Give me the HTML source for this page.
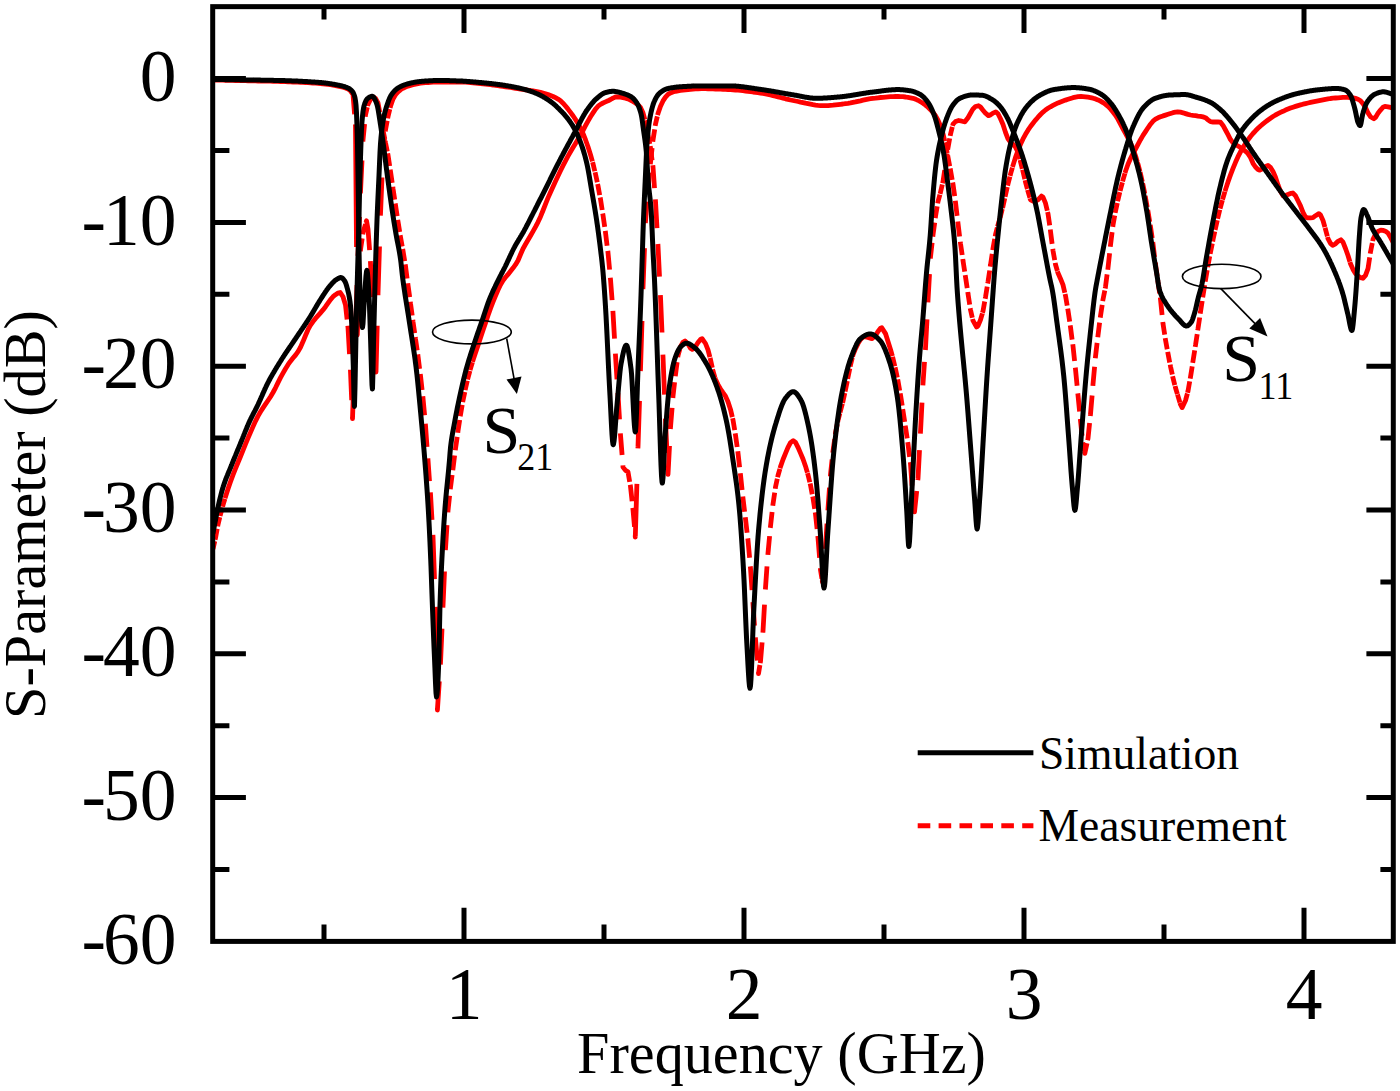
<!DOCTYPE html>
<html><head><meta charset="utf-8"><title>S-Parameter</title>
<style>html,body{margin:0;padding:0;background:#fff}svg{display:block}</style></head>
<body>
<svg width="1400" height="1091" viewBox="0 0 1400 1091">
<rect width="1400" height="1091" fill="#fff"/>
<defs><clipPath id="cp"><rect x="212.7" y="6.65" width="1180.6" height="934.75"/></clipPath></defs>
<g clip-path="url(#cp)" fill="none" stroke-linejoin="round">
<path d="M213.0,80.0L215.5,80.1L218.0,80.1L220.5,80.2L223.0,80.2L225.5,80.3L228.0,80.3L230.5,80.4L233.0,80.4L235.5,80.5L238.0,80.5L240.5,80.6L243.0,80.6L245.5,80.7L248.0,80.8L250.5,80.8L253.0,80.9L255.5,80.9L258.0,81.0L260.5,81.0L263.0,81.1L265.5,81.1L268.0,81.2L270.5,81.2L273.0,81.3L275.5,81.4L278.0,81.4L280.5,81.5L283.0,81.6L285.5,81.7L288.0,81.8L290.5,81.9L293.0,82.0L295.5,82.1L298.0,82.2L300.5,82.3L303.0,82.4L305.5,82.5L308.0,82.7L310.5,82.8L313.0,83.0L315.5,83.2L318.0,83.3L320.5,83.5L323.0,83.8L325.5,84.1L328.0,84.4L330.5,84.7L333.0,85.2L335.5,85.6L338.0,86.1L340.5,86.6L343.0,87.2L345.5,88.0L348.0,89.0L350.5,91.0L353.0,94.6L354.6,114.3M355.4,124.4L355.5,126.1L356.5,246.9M357.3,333.3L357.3,335.0L359.2,284.7M360.4,251.4L360.5,249.7L362.2,238.3M362.8,234.4L363.0,232.7L365.5,224.3M366.0,222.4L366.5,220.8L368.0,229.1L369.6,250.1M370.4,261.2L370.5,262.9L372.0,297.2M372.9,318.3L373.0,320.0L374.8,351.3M375.9,370.3L376.0,372.0L377.2,325.6M378.0,295.3L378.0,293.6L379.5,246.5M380.4,215.7L380.5,214.0L382.0,177.5M382.9,154.7L383.0,153.0L384.6,138.1M385.3,131.4L385.5,129.7L387.2,120.7M387.7,118.4L388.0,116.8L389.8,109.1M390.1,107.9L390.5,106.3L393.0,99.0L395.5,94.8L398.0,91.9L400.5,89.8L403.0,88.3L405.5,87.1L408.0,86.1L410.5,85.4L413.0,84.7L415.5,84.1L418.0,83.6L420.5,83.2L423.0,82.9L425.5,82.7L428.0,82.5L430.5,82.3L433.0,82.2L435.5,82.1L438.0,82.0L440.5,82.0L443.0,82.0L445.5,82.0L448.0,82.0L450.5,82.0L453.0,82.0L455.5,82.0L458.0,82.0L460.5,82.0L463.0,82.1L465.5,82.2L468.0,82.3L470.5,82.6L473.0,82.8L475.5,83.1L478.0,83.3L480.5,83.5L483.0,83.8L485.5,84.1L488.0,84.4L490.5,84.7L493.0,85.0L495.5,85.4L498.0,85.7L500.5,86.1L503.0,86.4L505.5,86.8L508.0,87.1L510.5,87.5L513.0,87.9L515.5,88.3L518.0,88.7L520.5,89.1L523.0,89.4L525.5,89.8L528.0,90.2L530.5,90.5L533.0,90.9L535.5,91.3L538.0,91.8L540.5,92.3L543.0,93.0L545.5,93.7L548.0,94.5L550.5,95.5L553.0,96.5L555.5,97.7L558.0,99.1L560.5,100.8L563.0,103.2L565.5,106.0L568.0,109.1L570.5,112.4L573.0,115.7L575.5,119.5L578.0,123.6L580.5,128.2L583.0,133.5L585.5,139.7L588.0,146.7L590.5,154.6L592.4,161.4M592.6,162.1L593.0,163.7L594.8,171.2M595.1,172.3L595.5,174.0L597.3,182.3M597.6,184.0L598.0,185.7L599.7,195.1M600.2,197.5L600.5,199.2L602.2,210.0M602.7,213.5L603.0,215.2L604.7,226.8M605.3,230.9L605.5,232.5L607.1,245.7M607.8,250.9L608.0,252.6L609.6,269.6M610.3,277.7L610.5,279.4L612.1,300.1M612.9,310.9L613.0,312.6L614.5,338.7M615.4,353.6L615.5,355.3L617.0,379.4M617.9,392.9L618.0,394.5L619.5,419.3M620.4,433.3L620.5,435.0L622.1,455.0M622.9,465.4L623.0,467.1L625.5,470.4L628.0,471.8L629.7,481.8M630.2,484.8L630.5,486.4L632.1,501.3M632.8,507.9L633.0,509.6L634.5,526.9M635.2,535.3L635.3,537.0L636.9,483.9M637.9,448.4L638.0,446.7L639.5,400.9M640.4,371.0L640.5,369.3L642.0,321.0M642.9,289.2L643.0,287.5L644.5,248.1M645.4,223.1L645.5,221.4L647.1,201.6M647.9,191.3L648.0,189.6L649.6,172.5M650.3,164.3L650.5,162.6L652.1,148.0M652.8,141.7L653.0,140.0L654.7,129.3M655.2,125.8L655.5,124.1L657.3,116.4M657.6,115.1L658.0,113.5L660.5,106.2L663.0,100.9L665.5,97.1L668.0,94.3L670.5,92.9L673.0,92.0L675.5,91.3L678.0,90.8L680.5,90.4L683.0,90.1L685.5,89.8L688.0,89.5L690.5,89.3L693.0,89.1L695.5,88.9L698.0,88.8L701.7,88.7L703.0,88.7L705.5,88.7L708.0,88.8L710.5,88.8L713.0,88.9L715.5,89.0L718.0,89.1L720.5,89.2L723.0,89.3L725.5,89.4L728.0,89.5L730.5,89.6L733.0,89.8L735.5,90.0L738.0,90.2L740.5,90.4L743.0,90.7L745.5,91.0L748.0,91.3L750.5,91.6L753.0,92.0L755.5,92.3L758.0,92.7L760.5,93.1L763.0,93.5L765.5,93.9L768.0,94.4L770.5,95.0L773.0,95.6L775.5,96.2L778.0,96.9L780.5,97.5L783.0,98.1L785.5,98.8L788.0,99.4L790.5,100.0L793.0,100.5L795.5,101.0L798.0,101.5L800.5,102.1L803.0,102.6L805.5,103.2L808.0,103.7L810.5,104.2L813.0,104.7L815.5,105.1L818.0,105.4L820.5,105.6L823.8,105.7L825.5,105.7L828.0,105.6L830.5,105.4L833.0,105.2L835.5,104.9L838.0,104.6L840.5,104.3L843.0,104.0L845.5,103.6L848.0,103.3L850.5,102.9L853.0,102.4L855.5,101.9L858.0,101.3L860.5,100.8L863.0,100.2L865.5,99.6L868.0,99.1L870.5,98.7L873.0,98.3L875.5,98.1L878.0,97.8L880.5,97.5L883.0,97.3L885.5,97.1L888.0,96.9L890.5,96.7L893.0,96.6L895.5,96.5L898.0,96.5L900.5,96.6L903.0,96.7L905.5,97.0L908.0,97.4L910.5,97.8L913.0,98.3L915.5,99.1L918.0,100.3L920.5,101.8L923.0,103.3L925.5,105.1L928.0,107.3L930.5,109.7L933.0,112.5L935.5,115.8L938.0,120.1L940.5,126.0L943.0,133.8L944.8,141.2M945.1,142.3L945.5,143.9L947.2,153.1M947.7,155.5L948.0,157.1L949.7,166.2M950.2,168.5L950.5,170.2L952.2,179.8M952.7,182.5L953.0,184.1L954.7,196.2M955.3,200.7L955.5,202.4L957.1,215.9M957.8,221.5L958.0,223.2L959.6,236.5M960.3,241.8L960.5,243.5L962.2,255.0M962.8,259.0L963.0,260.7L964.7,271.6M965.2,275.1L965.5,276.8L967.2,288.1M967.8,292.0L968.0,293.7L969.7,304.6M970.2,308.2L970.5,309.8L972.3,317.7M972.6,319.0L973.0,320.6L976.6,327.0L978.0,325.9L980.5,319.9L982.4,313.3M982.5,312.8L983.0,311.1L984.7,301.5M985.2,298.8L985.5,297.2L987.2,286.7M987.7,283.5L988.0,281.8L989.7,270.5M990.2,266.7L990.5,265.0L992.2,253.9M992.7,250.2L993.0,248.5L994.7,238.9M995.2,236.4L995.5,234.7L997.3,227.5M997.6,226.5L998.0,224.9L999.9,218.3M1000.0,217.8L1000.5,216.2L1002.3,208.9M1002.6,207.9L1003.0,206.3L1004.8,198.2M1005.1,196.7L1005.5,195.0L1007.3,187.0M1007.6,185.6L1008.0,183.9L1009.9,176.7M1010.1,175.9L1010.5,174.2L1012.4,167.6M1012.5,167.0L1013.0,165.4L1015.5,157.4L1018.0,150.5L1020.5,144.3L1023.0,138.9L1025.5,134.3L1028.0,130.2L1030.5,126.5L1033.0,123.2L1035.5,120.1L1038.0,117.2L1040.5,114.5L1043.0,112.1L1045.5,110.0L1048.0,108.3L1050.5,106.8L1053.0,105.4L1055.5,104.1L1058.0,102.9L1060.5,101.9L1063.0,101.0L1065.5,100.1L1068.0,99.3L1070.5,98.5L1073.0,97.7L1075.5,97.1L1078.0,96.7L1081.1,96.5L1083.0,96.6L1085.5,96.8L1088.0,97.2L1090.5,97.6L1093.0,98.2L1095.5,98.9L1098.0,99.9L1100.5,101.1L1103.0,102.6L1105.5,104.3L1108.0,106.3L1110.5,108.9L1113.0,112.0L1115.5,115.3L1118.0,119.3L1120.5,124.0L1123.0,128.8L1125.5,133.4L1128.0,138.0L1130.5,143.0L1133.0,148.7L1135.5,155.8L1137.4,162.2M1137.5,162.6L1138.0,164.2L1139.9,171.3M1140.1,172.2L1140.5,173.8L1142.3,181.8M1142.6,183.2L1143.0,184.9L1144.8,193.8M1145.2,195.9L1145.5,197.6L1147.2,207.2M1147.7,209.8L1148.0,211.5L1149.7,221.8M1150.2,225.0L1150.5,226.7L1152.2,238.1M1152.8,242.1L1153.0,243.8L1154.6,257.1M1155.3,262.5L1155.5,264.2L1157.2,276.0M1157.8,280.3L1158.0,282.0L1159.7,293.5M1160.3,297.5L1160.5,299.2L1162.1,314.9M1162.8,322.0L1163.0,323.7L1164.7,334.6M1165.2,338.2L1165.5,339.9L1167.2,349.3M1167.7,351.8L1168.0,353.5L1169.7,362.5M1170.2,364.7L1170.5,366.4L1172.3,374.6M1172.6,376.2L1173.0,377.9L1174.8,385.1M1175.1,386.0L1175.5,387.7L1177.4,394.1M1177.5,394.5L1178.0,396.1L1179.9,402.5M1180.0,402.8L1180.5,404.5L1182.1,407.6L1185.5,400.5L1187.4,393.5M1187.6,392.8L1188.0,391.1L1189.7,381.4M1190.2,378.7L1190.5,377.0L1192.2,366.3M1192.7,362.9L1193.0,361.2L1194.7,350.4M1195.2,346.9L1195.5,345.2L1197.2,334.1M1197.7,330.4L1198.0,328.7L1199.7,317.5M1200.2,313.6L1200.5,312.0L1202.2,301.0M1202.7,297.4L1203.0,295.7L1204.7,285.1M1205.2,281.7L1205.5,280.0L1207.2,270.1M1207.7,267.2L1208.0,265.5L1209.7,256.3M1210.2,253.9L1210.5,252.2L1212.3,243.5M1212.7,241.5L1213.0,239.8L1214.8,231.5M1215.1,229.9L1215.5,228.2L1217.3,220.2M1217.6,218.8L1218.0,217.1L1219.8,209.7M1220.1,208.6L1220.5,207.0L1222.4,200.2M1222.5,199.6L1223.0,198.0L1224.9,191.6M1225.0,191.2L1225.5,189.6L1228.0,181.9L1230.5,174.9L1233.0,168.4L1235.5,162.3L1238.0,156.7L1240.5,151.8L1243.0,147.4L1245.5,143.4L1248.0,139.8L1250.5,136.5L1253.0,133.5L1255.5,130.8L1258.0,128.3L1260.5,126.0L1263.0,123.9L1265.5,121.9L1268.0,120.0L1270.5,118.2L1273.0,116.5L1275.5,115.0L1278.0,113.7L1280.5,112.4L1283.0,111.3L1285.5,110.1L1288.0,109.1L1290.5,108.1L1293.0,107.2L1295.5,106.4L1298.0,105.6L1300.5,104.9L1303.0,104.2L1305.5,103.6L1308.0,103.0L1310.5,102.4L1313.0,101.8L1315.5,101.3L1318.0,100.8L1320.5,100.3L1323.0,99.8L1325.5,99.3L1328.0,98.9L1330.5,98.5L1333.0,98.2L1335.5,98.0L1338.0,97.8L1340.5,97.6L1343.0,97.4L1345.5,97.3L1347.8,97.3L1350.5,97.5L1353.0,97.8L1355.5,98.4L1358.0,99.2L1360.5,100.7L1363.0,103.8L1365.5,107.6L1368.0,112.9L1370.5,116.7L1373.9,118.8L1375.5,117.4L1378.0,113.3L1380.5,110.1L1383.0,107.2L1384.9,106.4L1388.0,106.8L1390.5,107.4L1393.0,108.2" stroke="#f00" stroke-width="4.8" stroke-linecap="butt"/>
<path d="M213.0,549.0L214.8,541.1M215.1,539.6L215.5,538.0L217.2,528.7M217.7,526.4L218.0,524.7L219.8,517.1M220.1,516.0L220.5,514.3L222.4,507.4M222.6,506.8L223.0,505.1L224.9,498.7M225.0,498.3L225.5,496.7L228.0,488.9L230.5,481.7L233.0,474.9L235.5,468.6L238.0,462.5L240.5,456.5L243.0,450.3L245.5,444.2L248.0,438.2L250.5,432.4L253.0,426.6L255.5,421.1L258.0,416.1L260.5,411.8L263.0,407.9L265.5,404.2L268.0,400.5L270.5,396.7L273.0,392.5L275.5,387.8L278.0,382.6L280.5,377.7L283.0,373.1L285.5,368.7L288.0,364.7L290.5,361.2L293.0,358.1L295.5,355.1L298.0,351.6L300.5,347.2L303.0,341.6L305.5,335.5L308.0,329.7L310.5,325.2L313.0,321.6L315.5,318.4L318.0,315.6L320.5,312.8L323.0,309.9L325.5,306.7L328.0,303.1L330.5,299.6L333.0,296.7L335.5,294.7L338.0,293.1L340.2,292.5L343.0,296.8L345.5,305.0L347.1,319.5M347.8,325.8L348.0,327.4L349.5,354.2M350.4,369.7L350.5,371.4L351.7,400.1M352.4,417.0L352.5,418.7L354.3,366.4M355.4,331.7L355.5,330.0L357.0,285.0M357.9,255.8L358.0,254.1L359.5,216.8M360.4,193.4L360.5,191.7L362.0,160.5M362.9,141.7L363.0,140.0L364.6,124.1M365.3,116.7L365.5,115.0L367.3,107.3M367.6,106.0L368.0,104.3L370.5,99.5L373.5,97.0L375.5,98.4L378.0,103.0L379.7,112.2M380.2,114.6L380.5,116.3L382.2,125.9M382.7,128.5L383.0,130.2L384.8,139.0M385.2,141.0L385.5,142.7L387.3,151.4M387.7,153.3L388.0,155.0L389.7,166.0M390.2,169.7L390.5,171.4L392.2,182.8M392.8,186.7L393.0,188.4L394.7,199.6M395.2,203.5L395.5,205.2L397.2,216.2M397.7,219.8L398.0,221.5L399.7,232.0M400.2,235.3L400.5,236.9L402.2,246.5M402.7,249.0L403.0,250.7L404.7,261.1M405.2,264.3L405.5,266.0L407.1,278.5M407.8,283.3L408.0,285.0L409.7,297.2M410.3,301.7L410.5,303.4L412.2,315.5M412.8,319.9L413.0,321.6L414.7,333.1M415.3,337.1L415.5,338.8L417.2,350.3M417.8,354.4L418.0,356.1L419.6,368.9M420.3,374.0L420.5,375.6L422.1,390.0M422.8,396.2L423.0,397.9L424.6,415.2M425.3,423.7L425.5,425.4L427.0,446.8M427.9,458.3L428.0,460.0L429.5,481.1M430.4,492.3L430.5,494.0L432.0,519.9M432.9,534.8L433.0,536.5L434.5,579.2M435.4,606.8L435.5,608.5L436.6,668.1M437.4,708.3L437.4,710.0L439.3,681.4M440.4,664.5L440.5,662.8L442.0,628.7M442.9,607.6L443.0,605.9L444.5,571.5M445.4,550.2L445.5,548.5L447.0,525.2M447.9,512.4L448.0,510.7L449.6,495.8M450.3,489.2L450.5,487.5L452.1,475.0M452.8,470.2L453.0,468.6L454.6,455.5M455.3,450.3L455.5,448.6L457.2,436.9M457.8,432.7L458.0,431.0L459.7,420.0M460.2,416.3L460.5,414.7L462.2,404.9M462.7,402.1L463.0,400.4L464.8,391.9M465.2,390.1L465.5,388.4L467.3,380.8M467.6,379.5L468.0,377.9L469.9,370.9M470.1,370.1L470.5,368.5L472.4,362.2M472.5,361.9L473.0,360.2L475.5,352.8L478.0,345.4L480.5,337.8L483.0,330.3L485.5,323.0L488.0,315.6L490.5,308.5L493.0,302.0L495.5,295.9L498.0,290.1L500.5,284.8L503.0,280.5L505.5,277.3L508.0,274.4L510.5,271.3L513.0,268.1L515.5,264.7L518.0,260.5L520.5,254.5L523.0,248.7L525.5,244.3L528.0,240.1L530.5,235.7L533.0,231.4L535.5,226.9L538.0,222.1L540.5,216.7L543.0,210.5L545.5,204.1L548.0,197.9L550.5,192.2L553.0,186.7L555.5,181.2L558.0,175.9L560.5,170.7L563.0,165.6L565.5,160.8L568.0,156.1L570.5,151.8L573.0,147.6L575.5,143.5L578.0,139.3L580.5,135.1L583.0,130.5L585.5,125.7L588.0,121.1L590.5,116.8L593.0,112.9L595.5,109.1L598.0,106.2L600.5,104.3L603.0,103.0L605.5,101.9L608.0,100.8L610.5,99.5L613.0,98.1L615.5,97.0L617.0,96.8L620.5,97.1L623.0,97.6L625.5,98.1L628.0,98.9L630.5,100.1L633.0,101.5L635.5,103.1L638.0,104.9L640.5,107.5L643.0,112.8L644.9,119.7M645.1,120.4L645.5,122.1L647.2,131.1M647.7,133.3L648.0,135.0L649.8,143.9M650.2,146.1L650.5,147.7L652.1,160.3M652.8,165.2L653.0,166.9L654.5,188.1M655.4,199.4L655.5,201.1L657.0,228.2M657.9,244.0L658.0,245.7L659.5,276.6M660.4,295.2L660.5,296.9L662.0,332.5M662.9,354.7L663.0,356.4L664.5,394.6M665.4,418.7L665.5,420.4L667.0,452.9M667.9,472.7L668.0,474.4L669.5,445.8M670.4,429.0L670.5,427.3L672.1,407.9M672.9,398.0L673.0,396.3L674.6,382.2M675.3,376.2L675.5,374.6L677.1,362.1M677.8,357.3L678.0,355.6L679.9,348.9M680.0,348.4L680.5,346.7L683.0,342.2L685.0,340.9L688.0,344.1L690.5,348.2L692.2,349.4L695.5,346.6L698.0,342.6L700.5,339.4L702.1,338.6L705.5,343.5L708.0,349.9L709.9,357.1M710.1,357.9L710.5,359.6L712.3,367.8M712.6,369.4L713.0,371.0L714.9,377.4M715.0,377.7L715.5,379.3L718.0,384.6L720.5,389.0L723.0,392.7L725.5,396.2L728.0,401.7L730.5,409.4L732.3,417.1M732.6,418.2L733.0,419.9L734.7,430.2M735.2,433.4L735.5,435.1L737.2,447.0M737.8,451.3L738.0,453.0L739.6,467.2M740.3,473.2L740.5,474.9L742.1,489.9M742.8,496.5L743.0,498.2L744.6,511.7M745.3,517.2L745.5,518.9L747.1,532.7M747.8,538.4L748.0,540.1L749.6,557.8M750.3,566.4L750.5,568.1L752.0,590.2M752.9,602.2L753.0,603.9L754.5,625.6M755.4,637.4L755.5,639.1L757.4,660.5M758.4,672.0L758.5,673.7L759.9,665.0M760.2,663.1L760.5,661.4L762.1,642.4M762.9,632.7L763.0,631.1L764.5,604.7M765.4,589.5L765.5,587.8L767.0,566.4M767.9,554.9L768.0,553.2L769.6,536.1M770.3,527.9L770.5,526.2L772.1,511.9M772.8,505.7L773.0,504.1L774.7,492.6M775.3,488.7L775.5,487.0L777.3,478.8M777.6,477.2L778.0,475.5L779.9,468.8M780.0,468.2L780.5,466.6L783.0,459.5L785.5,453.3L788.0,447.3L790.5,442.6L793.2,440.6L795.5,442.4L798.0,447.3L800.5,453.1L803.0,459.0L805.5,466.2L807.4,472.7M807.5,473.1L808.0,474.7L809.8,482.3M810.1,483.5L810.5,485.1L812.2,494.2M812.7,496.5L813.0,498.2L814.7,508.9M815.2,512.3L815.5,514.0L817.1,529.1M817.8,535.9L818.0,537.6L819.6,557.7M820.4,568.2L820.5,569.9L821.9,578.5M822.2,580.3L822.5,582.0L824.4,560.5M825.4,548.9L825.5,547.2L827.0,523.6M827.9,510.5L828.0,508.8L829.5,487.6M830.4,476.3L830.5,474.6L832.1,459.5M832.8,452.7L833.0,451.0L834.7,439.0M835.3,434.6L835.5,432.9L837.3,424.0M837.7,422.0L838.0,420.3L839.9,413.2M840.1,412.3L840.5,410.7L842.4,403.6M842.6,402.9L843.0,401.2L844.8,393.1M845.1,391.5L845.5,389.8L847.3,381.0M847.7,378.9L848.0,377.2L849.8,368.6M850.2,366.6L850.5,365.0L852.3,357.6M852.6,356.6L853.0,354.9L855.5,348.6L858.0,343.6L860.5,339.6L863.0,337.1L864.5,336.6L868.0,337.4L870.5,338.3L872.2,338.5L875.5,335.5L878.0,331.4L880.5,328.2L881.8,327.7L885.5,333.6L888.0,341.4L890.5,349.4L892.4,356.2M892.6,356.8L893.0,358.5L894.8,366.2M895.1,367.4L895.5,369.1L897.3,377.5M897.7,379.3L898.0,381.0L899.7,390.7M900.2,393.4L900.5,395.0L902.2,405.7M902.7,409.1L903.0,410.8L904.7,421.8M905.2,425.6L905.5,427.2L907.2,438.4M907.7,442.2L908.0,443.9L909.6,456.9M910.3,462.1L910.5,463.8L912.0,485.7M912.9,497.6L913.0,499.3L914.1,508.2M914.3,510.2L914.5,511.9L916.7,491.1M917.8,480.1L918.0,478.5L919.5,450.2M920.4,433.6L920.5,431.9L922.0,402.7M922.9,385.3L923.0,383.6L924.5,361.8M925.4,350.0L925.5,348.3L927.0,319.4M927.9,302.3L928.0,300.6L929.5,274.0M930.4,258.6L930.5,256.9L932.1,242.7M932.8,236.6L933.0,234.9L934.7,222.7M935.3,218.1L935.5,216.4L937.2,206.3M937.7,203.3L938.0,201.6L939.9,194.6M940.1,193.9L940.5,192.2L942.3,184.5M942.6,183.2L943.0,181.5L944.7,170.0M945.3,166.0L945.5,164.3L947.2,153.3M947.7,149.6L948.0,147.9L949.7,138.4M950.2,135.9L950.5,134.3L952.3,126.9M952.6,125.9L953.0,124.2L955.5,121.6L958.7,120.5L960.5,120.8L963.0,121.5L964.9,121.8L968.0,117.7L970.5,113.3L973.0,108.9L975.5,106.5L978.5,105.7L980.5,107.0L983.0,110.2L985.5,113.2L988.4,115.6L990.5,114.9L993.0,113.1L995.8,111.9L998.0,113.8L1000.5,118.8L1003.0,124.5L1005.5,132.4L1008.0,138.9L1010.5,142.2L1013.0,144.4L1015.5,147.1L1018.0,152.3L1019.9,159.2M1020.1,160.0L1020.5,161.6L1022.3,168.9M1022.6,169.8L1023.0,171.5L1024.8,179.1M1025.1,180.3L1025.5,182.0L1027.4,189.0M1027.6,189.8L1028.0,191.4L1029.9,197.8M1030.0,198.2L1030.5,199.8L1033.0,201.0L1035.5,201.0L1038.0,199.9L1041.5,196.0L1043.0,197.2L1045.5,203.2L1047.3,210.8M1047.6,212.0L1048.0,213.7L1049.7,225.3M1050.3,229.5L1050.5,231.2L1052.1,243.9M1052.8,248.9L1053.0,250.6L1054.7,260.2M1055.2,262.8L1055.5,264.5L1057.4,271.0M1057.5,271.4L1058.0,273.0L1060.5,278.7L1063.0,284.9L1064.8,292.7M1065.1,294.0L1065.5,295.7L1067.2,305.7M1067.7,308.7L1068.0,310.4L1069.7,321.6M1070.2,325.4L1070.5,327.1L1072.1,339.6M1072.8,344.3L1073.0,346.0L1074.6,361.0M1075.3,367.6L1075.5,369.3L1077.1,385.7M1077.8,393.4L1078.0,395.1L1079.6,411.4M1080.3,418.9L1080.5,420.6L1082.1,435.7M1082.8,442.4L1083.0,444.1L1084.3,451.1M1084.5,451.7L1084.8,453.4L1087.0,443.2M1087.6,440.2L1088.0,438.5L1089.6,423.0M1090.3,416.0L1090.5,414.3L1092.1,395.5M1092.9,385.9L1093.0,384.2L1094.6,366.8M1095.3,358.3L1095.5,356.6L1097.1,342.9M1097.8,337.2L1098.0,335.5L1099.6,322.6M1100.3,317.6L1100.5,315.9L1102.2,304.8M1102.7,301.1L1103.0,299.4L1104.8,290.6M1105.2,288.5L1105.5,286.8L1107.1,274.4M1107.8,269.7L1108.0,268.0L1109.6,253.3M1110.3,246.8L1110.5,245.1L1112.1,232.1M1112.8,226.9L1113.0,225.2L1114.7,215.5M1115.2,212.9L1115.5,211.2L1117.3,202.9M1117.6,201.3L1118.0,199.6L1119.8,192.1M1120.1,191.0L1120.5,189.4L1122.4,182.3M1122.6,181.5L1123.0,179.9L1124.9,173.4M1125.0,173.0L1125.5,171.3L1128.0,164.2L1130.5,158.5L1133.0,153.6L1135.5,149.0L1138.0,144.3L1140.5,139.7L1143.0,135.4L1145.5,131.6L1148.0,127.8L1150.5,124.2L1153.0,121.2L1155.5,119.2L1158.0,117.8L1160.5,116.8L1163.0,115.9L1165.5,115.1L1168.0,114.3L1170.5,113.5L1173.0,112.7L1175.5,112.1L1177.6,111.9L1180.5,112.2L1183.0,112.8L1185.5,113.6L1188.0,114.4L1190.5,115.0L1193.0,115.4L1195.5,115.7L1198.0,116.1L1200.5,116.4L1203.0,116.9L1205.5,117.7L1208.0,119.8L1210.5,121.7L1213.0,122.0L1215.5,122.0L1218.0,122.0L1220.5,122.2L1223.0,125.4L1225.5,130.0L1228.0,134.7L1230.5,139.6L1233.0,142.8L1235.5,144.6L1238.0,146.0L1240.5,147.6L1243.0,149.4L1245.5,151.2L1248.0,153.6L1250.5,157.5L1253.0,163.3L1255.5,167.0L1258.0,169.5L1259.8,170.2L1263.0,168.6L1265.5,166.5L1268.0,165.5L1270.5,167.4L1273.0,171.5L1275.5,177.3L1278.0,184.9L1280.5,191.4L1283.1,195.8L1285.5,195.4L1288.0,194.4L1290.5,193.4L1292.8,193.0L1295.5,195.7L1298.0,200.8L1300.5,205.9L1303.0,212.3L1305.5,217.2L1308.0,217.8L1310.5,217.8L1313.0,217.6L1315.5,215.7L1318.9,213.6L1320.5,215.1L1323.0,220.5L1324.9,227.2M1325.0,227.7L1325.5,229.3L1327.4,236.3M1327.6,237.0L1328.0,238.7L1330.5,243.4L1332.6,245.3L1335.5,243.8L1338.0,241.3L1340.9,239.8L1343.0,242.2L1345.5,248.5L1348.0,255.5L1349.9,261.8M1350.0,262.1L1350.5,263.7L1353.0,269.4L1355.5,273.5L1358.0,276.0L1360.5,277.6L1362.9,278.3L1365.5,275.4L1368.0,268.6L1369.7,257.4M1370.2,253.6L1370.5,251.9L1372.3,243.1M1372.7,241.1L1373.0,239.4L1375.5,234.4L1378.0,231.4L1380.8,230.1L1383.0,230.4L1385.5,231.2L1388.0,233.1L1390.5,237.4L1393.0,242.0" stroke="#f00" stroke-width="4.8" stroke-linecap="butt"/>
<path d="M213.0,533.0 L213.5,530.4 L214.0,527.7 L214.5,525.1 L215.0,522.6 L215.5,520.0 L216.0,517.4 L216.5,514.8 L217.0,512.2 L217.5,509.7 L218.0,507.3 L218.5,505.0 L219.0,502.8 L219.5,500.6 L220.0,498.5 L220.5,496.5 L221.0,494.5 L221.5,492.6 L222.0,490.7 L222.5,489.0 L223.0,487.3 L223.1,487.0 L223.5,485.7 L224.0,484.2 L224.5,482.8 L225.0,481.4 L225.5,480.0 L226.0,478.7 L226.5,477.4 L227.0,476.2 L227.5,475.0 L228.0,473.7 L228.5,472.5 L229.0,471.3 L229.5,470.1 L230.0,468.9 L230.5,467.7 L231.0,466.5 L231.4,465.5 L231.5,465.2 L232.0,464.0 L232.5,462.7 L233.0,461.5 L233.5,460.3 L234.0,459.0 L234.5,457.8 L235.0,456.6 L235.5,455.4 L236.0,454.1 L236.5,452.9 L237.0,451.7 L237.5,450.5 L238.0,449.3 L238.5,448.1 L239.0,446.9 L239.5,445.7 L240.0,444.5 L240.5,443.2 L241.0,442.0 L241.3,441.3 L241.5,440.8 L242.0,439.6 L242.5,438.4 L243.0,437.1 L243.5,435.9 L244.0,434.6 L244.5,433.4 L245.0,432.1 L245.5,430.9 L246.0,429.7 L246.5,428.5 L247.0,427.2 L247.5,426.1 L248.0,424.9 L248.5,423.7 L249.0,422.6 L249.5,421.5 L250.0,420.4 L250.5,419.4 L251.0,418.3 L251.5,417.3 L252.0,416.3 L252.5,415.4 L253.0,414.4 L253.5,413.4 L254.0,412.5 L254.5,411.5 L255.0,410.6 L255.5,409.6 L256.0,408.6 L256.5,407.6 L257.0,406.6 L257.5,405.6 L257.8,405.0 L258.0,404.6 L258.5,403.5 L259.0,402.4 L259.5,401.3 L260.0,400.2 L260.5,399.1 L261.0,397.9 L261.5,396.8 L262.0,395.7 L262.5,394.5 L263.0,393.4 L263.5,392.2 L264.0,391.1 L264.5,390.0 L265.0,388.8 L265.5,387.8 L266.0,386.7 L266.5,385.6 L267.0,384.6 L267.5,383.6 L267.8,383.0 L268.0,382.6 L268.5,381.7 L269.0,380.7 L269.5,379.8 L270.0,378.8 L270.5,377.9 L271.0,377.0 L271.5,376.1 L272.0,375.3 L272.5,374.4 L273.0,373.5 L273.5,372.7 L274.0,371.8 L274.5,371.0 L275.0,370.1 L275.5,369.3 L276.0,368.5 L276.5,367.6 L277.0,366.8 L277.5,366.0 L278.0,365.2 L278.5,364.4 L279.0,363.6 L279.5,362.8 L280.0,362.0 L280.5,361.2 L280.6,361.0 L281.0,360.4 L281.5,359.6 L282.0,358.8 L282.5,358.0 L283.0,357.2 L283.5,356.5 L284.0,355.7 L284.5,354.9 L285.0,354.2 L285.5,353.4 L286.0,352.7 L286.5,351.9 L287.0,351.2 L287.5,350.5 L288.0,349.7 L288.5,349.0 L289.0,348.3 L289.5,347.5 L290.0,346.8 L290.5,346.1 L291.0,345.3 L291.5,344.6 L292.0,343.9 L292.5,343.1 L293.0,342.4 L293.5,341.7 L294.0,340.9 L294.5,340.2 L295.0,339.4 L295.3,339.0 L295.5,338.7 L296.0,338.0 L296.5,337.2 L297.0,336.5 L297.5,335.7 L298.0,335.0 L298.5,334.3 L299.0,333.5 L299.5,332.8 L300.0,332.1 L300.5,331.3 L301.0,330.6 L301.5,329.8 L302.0,329.1 L302.5,328.4 L303.0,327.6 L303.5,326.9 L304.0,326.2 L304.5,325.4 L305.0,324.7 L305.5,323.9 L306.0,323.2 L306.5,322.4 L307.0,321.6 L307.5,320.9 L308.0,320.1 L308.5,319.3 L309.0,318.6 L309.5,317.8 L310.0,317.0 L310.5,316.2 L311.0,315.4 L311.5,314.6 L312.0,313.7 L312.5,312.9 L313.0,312.1 L313.5,311.2 L314.0,310.4 L314.5,309.5 L315.0,308.6 L315.5,307.8 L316.0,306.9 L316.5,306.1 L317.0,305.2 L317.5,304.4 L318.0,303.5 L318.5,302.7 L319.0,301.9 L319.5,301.1 L320.0,300.3 L320.5,299.5 L321.0,298.7 L321.5,297.9 L322.0,297.2 L322.5,296.4 L323.0,295.6 L323.5,294.8 L324.0,294.1 L324.5,293.3 L325.0,292.6 L325.5,291.8 L326.0,291.1 L326.5,290.4 L327.0,289.6 L327.5,289.0 L328.0,288.3 L328.5,287.6 L329.0,287.0 L329.5,286.4 L330.0,285.8 L330.5,285.2 L331.0,284.7 L331.5,284.1 L332.0,283.5 L332.5,283.0 L333.0,282.4 L333.5,281.9 L334.0,281.4 L334.5,280.9 L335.0,280.5 L335.5,280.1 L336.0,279.8 L336.5,279.5 L336.6,279.4 L337.0,279.2 L337.5,278.9 L338.0,278.6 L338.5,278.4 L339.0,278.1 L339.5,277.9 L340.0,277.8 L340.5,277.6 L341.0,277.6 L341.1,277.6 L341.5,277.7 L342.0,277.9 L342.5,278.3 L343.0,278.8 L343.5,279.4 L344.0,280.0 L344.5,280.8 L344.8,281.2 L345.0,281.5 L345.5,282.6 L346.0,283.9 L346.5,285.5 L347.0,287.3 L347.5,289.1 L347.6,289.5 L348.0,291.1 L348.5,293.1 L349.0,295.5 L349.5,298.3 L350.0,301.7 L350.3,304.0 L350.5,305.8 L351.0,312.1 L351.5,320.2 L352.0,329.7 L352.1,331.7 L352.5,341.4 L353.0,356.3 L353.3,366.0 L353.5,373.8 L354.0,397.3 L354.4,406.5 L354.5,405.8 L355.0,386.7 L355.4,366.0 L355.5,361.3 L356.0,334.9 L356.5,310.0 L357.0,290.8 L357.5,273.5 L357.6,270.0 L358.0,256.3 L358.5,238.8 L358.6,235.0 L359.0,217.3 L359.5,194.1 L359.6,190.0 L360.0,174.8 L360.5,157.7 L360.7,151.6 L361.0,142.7 L361.5,129.4 L361.8,124.0 L362.0,121.5 L362.5,116.0 L363.0,111.6 L363.5,108.3 L364.0,106.0 L364.5,104.4 L365.0,102.9 L365.5,101.7 L366.0,100.6 L366.5,99.8 L367.0,99.1 L367.5,98.6 L367.6,98.5 L368.0,98.2 L368.5,97.8 L369.0,97.5 L369.5,97.2 L370.0,96.9 L370.5,96.7 L371.0,96.5 L371.5,96.4 L372.0,96.3 L372.2,96.3 L372.5,96.3 L373.0,96.6 L373.5,97.1 L374.0,97.8 L374.5,98.6 L375.0,99.6 L375.5,100.7 L376.0,101.9 L376.5,103.2 L376.8,104.0 L377.0,104.6 L377.5,106.5 L378.0,108.9 L378.5,111.8 L379.0,114.9 L379.5,118.2 L380.0,121.5 L380.4,124.0 L380.5,124.6 L381.0,127.9 L381.5,131.3 L382.0,134.8 L382.5,138.4 L383.0,142.0 L383.5,145.7 L384.0,149.5 L384.5,153.3 L385.0,157.3 L385.5,161.2 L386.0,165.2 L386.5,169.1 L387.0,173.0 L387.5,176.8 L387.8,179.0 L388.0,180.5 L388.5,184.2 L389.0,187.8 L389.5,191.4 L390.0,195.1 L390.5,198.6 L391.0,202.2 L391.5,205.6 L392.0,209.1 L392.5,212.4 L393.0,215.7 L393.5,218.9 L394.0,222.0 L394.5,225.1 L395.0,228.1 L395.5,231.1 L396.0,234.0 L396.5,236.8 L397.0,239.5 L397.5,242.0 L398.0,244.5 L398.5,247.1 L399.0,249.7 L399.5,252.5 L400.0,255.6 L400.5,258.9 L400.6,259.6 L401.0,262.8 L401.5,267.5 L402.0,272.3 L402.4,275.8 L402.5,276.6 L403.0,280.4 L403.5,284.1 L404.0,287.6 L404.5,291.0 L405.0,294.3 L405.5,297.5 L406.0,300.7 L406.5,303.8 L407.0,306.9 L407.5,310.0 L408.0,313.2 L408.5,316.4 L409.0,319.6 L409.3,321.6 L409.5,322.9 L410.0,326.2 L410.5,329.4 L411.0,332.6 L411.5,335.7 L412.0,338.9 L412.5,342.0 L413.0,345.3 L413.5,348.5 L414.0,351.9 L414.5,355.4 L415.0,359.0 L415.5,362.8 L416.0,366.7 L416.1,367.5 L416.5,370.9 L417.0,375.3 L417.5,380.0 L418.0,384.9 L418.5,390.0 L419.0,395.2 L419.5,400.5 L420.0,405.8 L420.5,411.2 L420.7,413.3 L421.0,416.5 L421.5,421.9 L422.0,427.3 L422.5,432.8 L423.0,438.4 L423.5,444.2 L424.0,450.1 L424.5,456.2 L424.8,460.0 L425.0,462.5 L425.5,468.9 L426.0,475.4 L426.5,482.2 L427.0,489.2 L427.5,496.6 L428.0,504.5 L428.3,509.5 L428.5,513.0 L429.0,522.2 L429.5,532.2 L430.0,542.9 L430.5,554.3 L430.7,559.0 L431.0,566.5 L431.5,580.4 L432.0,594.7 L432.5,608.5 L433.0,621.5 L433.5,634.3 L434.0,646.6 L434.5,658.0 L435.0,670.2 L435.5,683.0 L436.0,693.0 L436.5,697.0 L437.0,694.8 L437.5,688.7 L438.0,679.6 L438.5,668.2 L438.9,658.0 L439.0,654.8 L439.5,628.3 L439.9,608.5 L440.0,605.1 L440.5,590.3 L441.0,577.9 L441.5,567.1 L441.9,559.0 L442.0,557.0 L442.5,547.4 L443.0,538.4 L443.5,530.1 L444.0,522.2 L444.5,515.0 L444.9,509.5 L445.0,508.2 L445.5,502.0 L446.0,496.3 L446.5,490.9 L447.0,485.9 L447.5,480.9 L448.0,476.0 L448.5,470.9 L449.0,465.6 L449.5,460.0 L450.0,453.4 L450.5,447.6 L451.0,443.5 L451.5,439.8 L452.0,436.6 L452.5,433.7 L453.0,431.0 L453.5,428.3 L454.0,425.7 L454.3,424.0 L454.5,422.9 L455.0,420.1 L455.5,417.4 L456.0,414.8 L456.5,412.2 L457.0,409.6 L457.5,407.1 L458.0,404.7 L458.5,402.3 L459.0,399.9 L459.5,397.6 L460.0,395.3 L460.5,393.0 L461.0,390.7 L461.5,388.5 L462.0,386.3 L462.5,384.1 L463.0,382.0 L463.5,379.9 L464.0,377.8 L464.5,375.8 L465.0,373.8 L465.5,371.9 L466.0,370.0 L466.4,368.5 L466.5,368.1 L467.0,366.3 L467.5,364.6 L468.0,362.9 L468.5,361.2 L469.0,359.6 L469.5,358.0 L470.0,356.4 L470.5,354.8 L471.0,353.3 L471.5,351.7 L472.0,350.2 L472.5,348.7 L473.0,347.2 L473.5,345.7 L474.0,344.2 L474.5,342.7 L474.7,342.1 L475.0,341.2 L475.5,339.7 L476.0,338.2 L476.5,336.8 L477.0,335.3 L477.5,333.9 L478.0,332.4 L478.5,331.0 L479.0,329.6 L479.5,328.1 L480.0,326.7 L480.5,325.3 L481.0,323.9 L481.5,322.4 L482.0,321.0 L482.1,320.7 L482.5,319.5 L483.0,318.1 L483.5,316.6 L484.0,315.0 L484.5,313.5 L485.0,312.0 L485.5,310.5 L486.0,309.0 L486.5,307.5 L487.0,306.0 L487.5,304.6 L488.0,303.2 L488.5,301.8 L489.0,300.5 L489.5,299.2 L490.0,298.0 L490.5,296.8 L491.0,295.6 L491.5,294.4 L492.0,293.3 L492.5,292.1 L493.0,291.0 L493.5,289.9 L494.0,288.9 L494.5,287.8 L495.0,286.8 L495.5,285.7 L496.0,284.7 L496.5,283.7 L497.0,282.7 L497.5,281.6 L498.0,280.6 L498.5,279.6 L499.0,278.6 L499.4,277.8 L499.5,277.6 L500.0,276.6 L500.5,275.6 L501.0,274.7 L501.5,273.7 L502.0,272.8 L502.5,271.8 L503.0,270.9 L503.5,269.9 L504.0,269.0 L504.5,268.0 L505.0,267.0 L505.5,266.0 L506.0,264.9 L506.5,263.9 L507.0,262.8 L507.5,261.7 L508.0,260.7 L508.5,259.6 L509.0,258.5 L509.5,257.4 L510.0,256.3 L510.5,255.2 L511.0,254.1 L511.5,253.1 L512.0,252.0 L512.5,251.0 L513.0,250.0 L513.5,249.0 L514.0,248.0 L514.5,247.1 L515.0,246.1 L515.5,245.2 L516.0,244.4 L516.5,243.5 L517.0,242.6 L517.5,241.8 L518.0,241.0 L518.5,240.1 L519.0,239.3 L519.5,238.5 L520.0,237.7 L520.5,236.8 L521.0,236.0 L521.5,235.2 L522.0,234.3 L522.5,233.5 L523.0,232.6 L523.5,231.8 L524.0,230.9 L524.2,230.5 L524.5,230.0 L525.0,229.0 L525.5,228.1 L526.0,227.2 L526.5,226.2 L527.0,225.2 L527.5,224.3 L528.0,223.3 L528.5,222.3 L529.0,221.4 L529.5,220.4 L530.0,219.4 L530.5,218.4 L531.0,217.4 L531.5,216.4 L532.0,215.5 L532.5,214.5 L533.0,213.5 L533.5,212.5 L534.0,211.5 L534.5,210.6 L535.0,209.6 L535.5,208.6 L536.0,207.6 L536.5,206.6 L537.0,205.7 L537.5,204.7 L538.0,203.7 L538.5,202.7 L539.0,201.7 L539.5,200.7 L540.0,199.7 L540.5,198.8 L541.0,197.8 L541.5,196.8 L542.0,195.8 L542.3,195.2 L542.5,194.8 L543.0,193.8 L543.5,192.8 L544.0,191.8 L544.5,190.8 L545.0,189.8 L545.5,188.8 L546.0,187.8 L546.5,186.8 L547.0,185.8 L547.5,184.8 L548.0,183.8 L548.5,182.8 L549.0,181.8 L549.5,180.8 L550.0,179.7 L550.5,178.7 L551.0,177.7 L551.5,176.7 L552.0,175.7 L552.5,174.7 L553.0,173.7 L553.5,172.7 L554.0,171.7 L554.5,170.7 L555.0,169.7 L555.5,168.7 L556.0,167.7 L556.5,166.7 L557.0,165.7 L557.5,164.7 L558.0,163.8 L558.5,162.8 L559.0,161.8 L559.5,160.8 L560.0,159.9 L560.5,158.9 L561.0,157.9 L561.5,157.0 L562.0,156.0 L562.5,155.1 L563.0,154.1 L563.5,153.2 L564.0,152.3 L564.5,151.3 L565.0,150.4 L565.5,149.5 L566.0,148.5 L566.5,147.6 L567.0,146.7 L567.5,145.8 L568.0,144.8 L568.5,143.9 L569.0,143.0 L569.5,142.1 L570.0,141.2 L570.5,140.2 L571.0,139.3 L571.5,138.4 L572.0,137.5 L572.5,136.6 L573.0,135.6 L573.5,134.7 L574.0,133.8 L574.5,132.9 L574.6,132.7 L575.0,132.0 L575.5,131.0 L576.0,130.1 L576.5,129.1 L577.0,128.1 L577.5,127.2 L578.0,126.2 L578.5,125.2 L579.0,124.2 L579.5,123.2 L580.0,122.2 L580.5,121.3 L581.0,120.3 L581.5,119.4 L582.0,118.4 L582.5,117.5 L583.0,116.6 L583.5,115.7 L584.0,114.8 L584.5,114.0 L585.0,113.1 L585.5,112.3 L586.0,111.5 L586.5,110.8 L586.7,110.5 L587.0,110.1 L587.5,109.4 L588.0,108.7 L588.5,108.0 L589.0,107.3 L589.5,106.6 L590.0,105.9 L590.5,105.3 L591.0,104.7 L591.5,104.0 L592.0,103.4 L592.5,102.8 L593.0,102.2 L593.5,101.7 L594.0,101.1 L594.5,100.6 L595.0,100.1 L595.5,99.6 L596.0,99.1 L596.5,98.7 L596.8,98.4 L597.0,98.2 L597.5,97.8 L598.0,97.4 L598.5,96.9 L599.0,96.5 L599.5,96.1 L600.0,95.7 L600.5,95.3 L601.0,94.9 L601.5,94.6 L602.0,94.2 L602.5,93.9 L603.0,93.6 L603.5,93.4 L604.0,93.1 L604.5,92.9 L604.9,92.8 L605.0,92.8 L605.5,92.6 L606.0,92.5 L606.5,92.3 L607.0,92.2 L607.5,92.1 L608.0,92.0 L608.5,91.8 L609.0,91.7 L609.5,91.6 L610.0,91.6 L610.5,91.5 L611.0,91.4 L611.5,91.4 L612.0,91.3 L612.5,91.3 L612.9,91.3 L613.0,91.3 L613.5,91.3 L614.0,91.3 L614.5,91.4 L615.0,91.4 L615.5,91.5 L616.0,91.6 L616.5,91.7 L617.0,91.8 L617.5,91.9 L618.0,92.0 L618.5,92.1 L619.0,92.3 L619.5,92.4 L620.0,92.5 L620.5,92.7 L621.0,92.8 L621.5,93.0 L622.0,93.1 L622.5,93.3 L623.0,93.4 L623.5,93.5 L624.0,93.7 L624.5,93.8 L625.0,94.0 L625.5,94.2 L626.0,94.4 L626.5,94.5 L627.0,94.7 L627.5,94.9 L628.0,95.2 L628.5,95.4 L629.0,95.6 L629.5,95.9 L630.0,96.2 L630.5,96.4 L631.0,96.7 L631.1,96.8 L631.5,97.1 L632.0,97.4 L632.5,97.8 L633.0,98.3 L633.5,98.7 L634.0,99.3 L634.5,99.8 L635.0,100.4 L635.5,101.1 L636.0,101.7 L636.5,102.5 L637.0,103.2 L637.1,103.4 L637.5,104.1 L638.0,105.0 L638.5,106.1 L639.0,107.3 L639.5,108.7 L640.0,110.2 L640.5,111.9 L641.0,113.7 L641.2,114.5 L641.5,115.9 L642.0,118.8 L642.5,122.4 L643.0,126.2 L643.5,130.0 L643.6,130.7 L644.0,133.5 L644.5,136.9 L645.0,140.4 L645.5,144.3 L646.0,148.8 L646.2,150.8 L646.5,154.4 L647.0,162.1 L647.5,170.5 L648.0,178.4 L648.2,181.0 L648.5,184.4 L649.0,189.4 L649.5,193.7 L650.0,198.0 L650.5,202.8 L651.0,208.6 L651.2,211.3 L651.5,216.4 L652.0,227.3 L652.5,239.6 L653.0,251.0 L653.5,260.7 L654.0,269.9 L654.5,280.0 L655.0,291.6 L655.5,304.2 L655.6,306.8 L656.0,317.5 L656.5,331.6 L657.0,346.3 L657.5,361.0 L658.0,375.5 L658.5,389.3 L658.6,392.0 L659.0,403.4 L659.5,419.2 L660.0,435.5 L660.5,451.2 L661.0,465.0 L661.5,475.7 L662.0,481.9 L662.3,483.0 L662.5,482.5 L663.0,477.7 L663.5,469.0 L664.0,458.3 L664.5,447.3 L665.0,437.7 L665.2,434.7 L665.5,430.6 L666.0,423.8 L666.5,417.1 L667.0,410.7 L667.5,404.7 L668.0,399.1 L668.5,394.0 L669.0,389.5 L669.4,386.4 L669.5,385.7 L670.0,382.3 L670.5,379.0 L671.0,376.0 L671.5,373.1 L672.0,370.4 L672.5,368.0 L673.0,365.6 L673.5,363.5 L674.0,361.6 L674.5,359.8 L675.0,358.3 L675.1,358.0 L675.5,356.9 L676.0,355.5 L676.5,354.2 L677.0,353.0 L677.5,351.9 L678.0,350.8 L678.5,349.8 L679.0,349.0 L679.5,348.2 L680.0,347.5 L680.5,346.9 L680.8,346.6 L681.0,346.4 L681.5,346.0 L682.0,345.5 L682.5,345.1 L683.0,344.7 L683.5,344.3 L684.0,344.0 L684.5,343.7 L685.0,343.5 L685.5,343.3 L686.0,343.2 L686.5,343.2 L687.0,343.2 L687.5,343.3 L688.0,343.4 L688.5,343.6 L689.0,343.8 L689.5,344.0 L690.0,344.3 L690.5,344.6 L691.0,344.9 L691.5,345.3 L692.0,345.6 L692.5,346.0 L693.0,346.4 L693.5,346.8 L694.0,347.2 L694.5,347.6 L695.0,348.0 L695.5,348.4 L696.0,348.9 L696.5,349.3 L697.0,349.8 L697.5,350.4 L698.0,351.0 L698.5,351.6 L699.0,352.2 L699.5,352.8 L700.0,353.5 L700.5,354.2 L701.0,354.9 L701.5,355.7 L702.0,356.4 L702.5,357.2 L703.0,358.0 L703.5,358.8 L704.0,359.6 L704.5,360.4 L705.0,361.2 L705.5,362.1 L706.0,362.9 L706.4,363.6 L706.5,363.8 L707.0,364.6 L707.5,365.5 L708.0,366.5 L708.5,367.4 L709.0,368.4 L709.5,369.4 L710.0,370.4 L710.5,371.4 L711.0,372.5 L711.5,373.6 L712.0,374.7 L712.5,375.9 L713.0,377.0 L713.5,378.2 L714.0,379.4 L714.5,380.7 L715.0,381.9 L715.5,383.2 L716.0,384.5 L716.5,385.9 L717.0,387.2 L717.5,388.6 L717.7,389.2 L718.0,390.1 L718.5,391.5 L719.0,393.0 L719.5,394.6 L720.0,396.1 L720.5,397.8 L721.0,399.5 L721.5,401.2 L722.0,403.0 L722.5,404.8 L723.0,406.7 L723.5,408.6 L724.0,410.6 L724.5,412.7 L725.0,414.8 L725.5,416.9 L726.0,419.1 L726.3,420.5 L726.5,421.4 L727.0,423.8 L727.5,426.4 L728.0,429.0 L728.5,431.8 L729.0,434.7 L729.5,437.7 L730.0,440.7 L730.5,443.9 L731.0,447.1 L731.5,450.3 L732.0,453.6 L732.5,457.0 L733.0,460.3 L733.4,463.0 L733.5,463.7 L734.0,467.0 L734.5,470.3 L735.0,473.7 L735.5,477.1 L736.0,480.6 L736.5,484.2 L737.0,488.0 L737.5,492.0 L738.0,496.3 L738.5,500.8 L739.0,505.7 L739.5,511.0 L740.0,516.9 L740.5,523.3 L741.0,530.1 L741.5,537.4 L742.0,545.0 L742.5,553.1 L743.0,561.4 L743.5,570.0 L744.0,579.6 L744.5,590.7 L745.0,602.5 L745.5,614.7 L746.0,626.4 L746.5,637.3 L747.0,646.7 L747.5,655.6 L748.0,665.0 L748.5,673.8 L749.0,681.3 L749.5,686.4 L750.0,688.3 L750.5,685.7 L751.0,678.7 L751.5,668.4 L752.0,655.9 L752.5,642.3 L753.0,628.7 L753.5,616.3 L753.9,608.0 L754.0,606.1 L754.5,596.8 L755.0,587.4 L755.5,578.1 L756.0,569.1 L756.5,560.3 L757.0,552.0 L757.5,544.3 L758.0,537.2 L758.5,531.0 L759.0,525.3 L759.5,519.9 L760.0,514.6 L760.5,509.6 L761.0,504.8 L761.5,500.2 L762.0,495.7 L762.5,491.5 L763.0,487.5 L763.5,483.6 L764.0,479.9 L764.5,476.4 L765.0,473.0 L765.5,469.8 L766.0,466.8 L766.2,465.6 L766.5,463.9 L767.0,461.1 L767.5,458.3 L768.0,455.7 L768.5,453.1 L769.0,450.7 L769.5,448.3 L770.0,446.0 L770.5,443.7 L771.0,441.6 L771.5,439.4 L772.0,437.4 L772.5,435.4 L773.0,433.5 L773.5,431.6 L774.0,429.8 L774.5,428.0 L775.0,426.3 L775.5,424.6 L775.9,423.3 L776.0,423.0 L776.5,421.3 L777.0,419.7 L777.5,418.1 L778.0,416.5 L778.5,414.9 L779.0,413.3 L779.5,411.8 L780.0,410.3 L780.5,408.9 L781.0,407.5 L781.5,406.2 L782.0,404.9 L782.5,403.7 L783.0,402.6 L783.5,401.5 L784.0,400.5 L784.5,399.7 L785.0,398.9 L785.5,398.2 L786.0,397.6 L786.5,397.0 L787.0,396.3 L787.5,395.7 L788.0,395.2 L788.5,394.6 L789.0,394.1 L789.5,393.6 L790.0,393.2 L790.5,392.8 L791.0,392.4 L791.5,392.1 L792.0,391.9 L792.5,391.8 L793.0,391.7 L793.2,391.7 L793.5,391.7 L794.0,391.8 L794.5,392.0 L795.0,392.3 L795.5,392.7 L796.0,393.1 L796.5,393.6 L797.0,394.2 L797.5,394.8 L798.0,395.5 L798.5,396.2 L799.0,397.0 L799.5,397.7 L800.0,398.5 L800.5,399.3 L800.9,400.0 L801.0,400.2 L801.5,401.1 L802.0,402.2 L802.5,403.4 L803.0,404.8 L803.5,406.3 L804.0,408.0 L804.5,409.7 L805.0,411.6 L805.5,413.5 L806.0,415.5 L806.5,417.6 L807.0,419.8 L807.5,422.0 L808.0,424.2 L808.5,426.5 L808.6,427.0 L809.0,428.9 L809.5,431.4 L810.0,434.1 L810.5,436.9 L811.0,439.8 L811.5,442.9 L812.0,446.2 L812.5,449.6 L813.0,453.2 L813.5,456.9 L814.0,460.7 L814.5,464.8 L815.0,469.0 L815.5,473.3 L816.0,478.0 L816.5,483.2 L817.0,488.9 L817.5,495.0 L818.0,501.3 L818.5,507.9 L819.0,514.6 L819.5,521.5 L820.0,528.3 L820.2,531.0 L820.5,535.5 L821.0,544.3 L821.5,554.1 L822.0,564.0 L822.5,573.2 L823.0,580.9 L823.5,586.1 L824.0,588.0 L824.5,586.2 L825.0,581.4 L825.5,574.2 L826.0,565.4 L826.5,555.9 L827.0,546.2 L827.5,537.2 L827.9,531.0 L828.0,529.6 L828.5,522.4 L829.0,515.1 L829.5,507.7 L830.0,500.3 L830.5,493.0 L831.0,485.9 L831.5,479.0 L832.0,472.3 L832.5,466.1 L833.0,460.3 L833.5,455.0 L833.6,454.0 L834.0,450.1 L834.5,445.4 L835.0,440.9 L835.5,436.5 L836.0,432.3 L836.5,428.2 L837.0,424.2 L837.5,420.4 L838.0,416.8 L838.5,413.3 L839.0,409.9 L839.5,406.7 L840.0,403.6 L840.5,400.7 L841.0,397.9 L841.3,396.3 L841.5,395.3 L842.0,392.7 L842.5,390.2 L843.0,387.8 L843.5,385.4 L844.0,383.1 L844.5,380.8 L845.0,378.7 L845.5,376.6 L846.0,374.5 L846.5,372.5 L847.0,370.6 L847.5,368.8 L848.0,367.0 L848.5,365.3 L849.0,363.7 L849.5,362.1 L850.0,360.6 L850.5,359.2 L851.0,357.8 L851.5,356.5 L852.0,355.1 L852.5,353.8 L853.0,352.5 L853.5,351.3 L854.0,350.0 L854.5,348.8 L855.0,347.7 L855.5,346.5 L856.0,345.5 L856.5,344.4 L857.0,343.4 L857.5,342.5 L858.0,341.7 L858.5,340.9 L859.0,340.2 L859.5,339.6 L860.0,339.0 L860.5,338.6 L860.6,338.5 L861.0,338.2 L861.5,337.8 L862.0,337.4 L862.5,337.1 L863.0,336.7 L863.5,336.4 L864.0,336.1 L864.5,335.8 L865.0,335.5 L865.5,335.2 L866.0,335.0 L866.5,334.7 L867.0,334.5 L867.5,334.4 L868.0,334.2 L868.5,334.1 L869.0,334.0 L869.5,333.9 L870.0,333.9 L870.2,333.9 L870.5,333.9 L871.0,334.0 L871.5,334.1 L872.0,334.2 L872.5,334.4 L873.0,334.6 L873.5,334.9 L874.0,335.2 L874.5,335.5 L875.0,335.9 L875.5,336.2 L876.0,336.7 L876.5,337.1 L877.0,337.5 L877.5,338.0 L878.0,338.5 L878.5,339.0 L879.0,339.5 L879.5,340.0 L879.9,340.4 L880.0,340.5 L880.5,341.1 L881.0,341.7 L881.5,342.4 L882.0,343.2 L882.5,344.1 L883.0,345.0 L883.5,346.0 L884.0,347.1 L884.5,348.2 L885.0,349.3 L885.5,350.5 L886.0,351.8 L886.5,353.1 L887.0,354.4 L887.5,355.8 L888.0,357.2 L888.5,358.6 L889.0,360.1 L889.5,361.6 L890.0,363.1 L890.5,364.8 L891.0,366.5 L891.5,368.3 L892.0,370.2 L892.5,372.1 L893.0,374.2 L893.5,376.4 L894.0,378.7 L894.5,381.1 L895.0,383.7 L895.5,386.3 L896.0,389.1 L896.5,392.0 L897.0,395.0 L897.2,396.3 L897.5,398.3 L898.0,401.9 L898.5,405.9 L899.0,410.2 L899.5,414.9 L900.0,419.8 L900.5,425.1 L901.0,430.5 L901.5,436.2 L902.0,442.0 L902.5,447.9 L903.0,454.0 L903.5,460.4 L904.0,467.4 L904.5,474.8 L905.0,482.6 L905.5,490.6 L906.0,498.8 L906.5,507.0 L906.8,511.9 L907.0,515.5 L907.5,526.5 L908.0,537.5 L908.5,545.0 L908.8,546.5 L909.0,546.0 L909.5,541.4 L910.0,532.9 L910.5,522.0 L911.0,510.1 L911.5,498.7 L911.8,492.6 L912.0,488.8 L912.5,479.0 L913.0,468.8 L913.5,458.5 L914.0,448.2 L914.5,438.1 L915.0,428.3 L915.5,419.1 L915.7,415.6 L916.0,410.5 L916.5,402.2 L917.0,394.1 L917.5,386.3 L918.0,378.7 L918.5,371.5 L919.0,364.5 L919.5,357.8 L920.0,351.5 L920.5,345.6 L921.0,340.0 L921.5,334.6 L922.0,329.0 L922.5,323.4 L922.8,319.8 L923.0,317.4 L923.5,311.0 L924.0,304.5 L924.5,297.9 L925.0,291.3 L925.5,284.8 L926.0,278.6 L926.5,272.8 L927.0,267.5 L927.5,262.5 L928.0,257.9 L928.5,253.2 L929.0,248.5 L929.5,243.5 L930.0,238.0 L930.2,235.6 L930.5,231.7 L931.0,224.3 L931.5,216.2 L932.0,208.3 L932.5,201.0 L932.7,198.5 L933.0,194.9 L933.5,189.0 L934.0,183.4 L934.5,178.0 L935.0,173.0 L935.5,168.4 L936.0,164.3 L936.4,161.4 L936.5,160.7 L937.0,157.5 L937.5,154.5 L938.0,151.7 L938.5,149.1 L939.0,146.6 L939.5,144.3 L940.0,142.1 L940.5,139.9 L941.0,137.8 L941.3,136.6 L941.5,135.8 L942.0,133.8 L942.5,131.8 L943.0,129.9 L943.5,128.1 L944.0,126.4 L944.5,124.7 L945.0,123.1 L945.5,121.6 L946.0,120.1 L946.3,119.3 L946.5,118.8 L947.0,117.4 L947.5,116.1 L948.0,114.8 L948.5,113.6 L949.0,112.4 L949.5,111.3 L950.0,110.2 L950.5,109.1 L951.0,108.2 L951.5,107.3 L952.0,106.4 L952.5,105.7 L953.0,105.0 L953.5,104.3 L954.0,103.7 L954.5,103.1 L955.0,102.5 L955.5,101.9 L956.0,101.3 L956.5,100.8 L957.0,100.3 L957.5,99.9 L958.0,99.5 L958.5,99.1 L959.0,98.8 L959.5,98.5 L959.9,98.3 L960.0,98.3 L960.5,98.0 L961.0,97.8 L961.5,97.6 L962.0,97.4 L962.5,97.2 L963.0,97.0 L963.5,96.8 L964.0,96.6 L964.5,96.5 L965.0,96.3 L965.5,96.1 L966.0,96.0 L966.5,95.9 L967.0,95.7 L967.5,95.6 L968.0,95.5 L968.5,95.4 L969.0,95.3 L969.5,95.2 L970.0,95.1 L970.5,95.1 L971.0,95.0 L971.5,95.0 L972.0,95.0 L972.3,95.0 L972.5,95.0 L973.0,95.0 L973.5,95.0 L974.0,95.0 L974.5,95.0 L975.0,95.0 L975.5,95.0 L976.0,95.0 L976.5,95.1 L977.0,95.1 L977.5,95.1 L978.0,95.1 L978.5,95.1 L979.0,95.1 L979.5,95.2 L980.0,95.2 L980.5,95.2 L981.0,95.2 L981.5,95.3 L982.0,95.3 L982.2,95.3 L982.5,95.3 L983.0,95.4 L983.5,95.5 L984.0,95.6 L984.5,95.7 L985.0,95.9 L985.5,96.0 L986.0,96.2 L986.5,96.5 L987.0,96.7 L987.5,96.9 L988.0,97.2 L988.5,97.4 L989.0,97.7 L989.5,98.0 L990.0,98.3 L990.5,98.6 L991.0,98.9 L991.5,99.2 L992.0,99.4 L992.1,99.5 L992.5,99.7 L993.0,100.1 L993.5,100.4 L994.0,100.7 L994.5,101.1 L995.0,101.5 L995.5,101.9 L996.0,102.4 L996.5,102.8 L997.0,103.3 L997.5,103.7 L998.0,104.2 L998.5,104.7 L999.0,105.3 L999.4,105.7 L999.5,105.8 L1000.0,106.4 L1000.5,107.0 L1001.0,107.6 L1001.5,108.3 L1002.0,109.0 L1002.5,109.7 L1003.0,110.4 L1003.5,111.2 L1004.0,112.0 L1004.5,112.8 L1005.0,113.6 L1005.5,114.5 L1006.0,115.4 L1006.5,116.3 L1006.8,116.8 L1007.0,117.2 L1007.5,118.1 L1008.0,119.1 L1008.5,120.2 L1009.0,121.3 L1009.5,122.4 L1010.0,123.6 L1010.5,124.8 L1011.0,126.0 L1011.5,127.2 L1012.0,128.4 L1012.5,129.7 L1013.0,130.9 L1013.5,132.2 L1014.0,133.5 L1014.3,134.2 L1014.5,134.7 L1015.0,135.9 L1015.5,137.2 L1016.0,138.5 L1016.5,139.7 L1017.0,141.0 L1017.5,142.3 L1018.0,143.7 L1018.5,145.0 L1019.0,146.3 L1019.5,147.7 L1020.0,149.1 L1020.5,150.5 L1021.0,151.9 L1021.5,153.4 L1021.7,154.0 L1022.0,154.9 L1022.5,156.4 L1023.0,158.0 L1023.5,159.5 L1024.0,161.1 L1024.5,162.7 L1025.0,164.4 L1025.5,166.1 L1026.0,167.8 L1026.5,169.5 L1027.0,171.2 L1027.5,173.0 L1028.0,174.7 L1028.5,176.5 L1029.0,178.3 L1029.1,178.7 L1029.5,180.2 L1030.0,182.0 L1030.5,183.9 L1031.0,185.7 L1031.5,187.6 L1032.0,189.6 L1032.5,191.5 L1033.0,193.5 L1033.5,195.5 L1034.0,197.6 L1034.5,199.6 L1035.0,201.8 L1035.5,203.9 L1036.0,206.1 L1036.5,208.4 L1037.0,210.7 L1037.5,213.1 L1038.0,215.6 L1038.5,218.2 L1039.0,220.8 L1039.5,223.5 L1040.0,226.2 L1040.5,228.9 L1041.0,231.7 L1041.5,234.4 L1042.0,237.2 L1042.5,239.9 L1043.0,242.6 L1043.5,245.3 L1044.0,248.0 L1044.5,250.6 L1045.0,253.3 L1045.5,256.0 L1046.0,258.7 L1046.5,261.4 L1047.0,264.1 L1047.5,266.7 L1048.0,269.4 L1048.5,272.0 L1049.0,274.5 L1049.5,277.1 L1050.0,279.5 L1050.1,280.0 L1050.5,281.8 L1051.0,284.0 L1051.5,286.1 L1052.0,288.5 L1052.3,290.0 L1052.5,291.1 L1053.0,294.0 L1053.5,297.2 L1054.0,300.6 L1054.5,304.2 L1055.0,307.9 L1055.5,311.7 L1056.0,315.5 L1056.5,319.3 L1057.0,323.0 L1057.5,326.7 L1058.0,330.3 L1058.5,333.9 L1059.0,337.5 L1059.5,341.1 L1060.0,344.8 L1060.5,348.5 L1061.0,352.3 L1061.5,356.3 L1062.0,360.3 L1062.5,364.6 L1063.0,369.0 L1063.5,373.7 L1063.8,376.6 L1064.0,378.6 L1064.5,384.0 L1065.0,389.8 L1065.5,395.9 L1066.0,402.3 L1066.5,408.9 L1067.0,415.7 L1067.5,422.5 L1068.0,429.2 L1068.5,435.9 L1068.7,438.5 L1069.0,442.5 L1069.5,449.4 L1070.0,456.5 L1070.5,463.7 L1071.0,470.7 L1071.5,477.3 L1072.0,483.5 L1072.4,488.0 L1072.5,489.1 L1073.0,494.9 L1073.5,500.8 L1074.0,505.9 L1074.5,509.3 L1074.9,510.3 L1075.0,510.2 L1075.5,508.2 L1076.0,504.0 L1076.5,498.5 L1077.0,492.5 L1077.4,488.0 L1077.5,486.9 L1078.0,481.1 L1078.5,474.7 L1079.0,467.9 L1079.5,460.8 L1080.0,453.7 L1080.5,446.6 L1081.0,439.8 L1081.1,438.5 L1081.5,433.3 L1082.0,426.7 L1082.5,420.1 L1083.0,413.5 L1083.5,407.0 L1084.0,400.6 L1084.5,394.3 L1085.0,388.2 L1085.5,382.3 L1086.0,376.6 L1086.5,371.1 L1087.0,365.8 L1087.5,360.6 L1088.0,355.5 L1088.5,350.5 L1089.0,345.7 L1089.5,340.9 L1090.0,336.2 L1090.5,331.6 L1091.0,327.0 L1091.5,322.4 L1092.0,317.9 L1092.5,313.3 L1093.0,308.8 L1093.5,304.5 L1094.0,300.3 L1094.5,296.4 L1095.0,292.7 L1095.4,290.0 L1095.5,289.4 L1096.0,286.4 L1096.5,283.7 L1097.0,281.1 L1097.2,280.0 L1097.5,278.4 L1098.0,275.7 L1098.5,273.1 L1099.0,270.5 L1099.5,267.9 L1100.0,265.3 L1100.5,262.7 L1101.0,260.2 L1101.5,257.6 L1102.0,255.1 L1102.5,252.6 L1103.0,250.0 L1103.4,248.0 L1103.5,247.5 L1104.0,244.9 L1104.5,242.4 L1105.0,239.9 L1105.5,237.3 L1106.0,234.8 L1106.5,232.3 L1107.0,229.7 L1107.5,227.2 L1108.0,224.7 L1108.5,222.2 L1109.0,219.7 L1109.5,217.3 L1110.0,214.8 L1110.5,212.4 L1110.8,210.9 L1111.0,209.9 L1111.5,207.5 L1112.0,205.0 L1112.5,202.6 L1113.0,200.2 L1113.5,197.7 L1114.0,195.3 L1114.5,192.9 L1115.0,190.5 L1115.5,188.1 L1116.0,185.8 L1116.5,183.6 L1117.0,181.3 L1117.5,179.1 L1118.0,177.0 L1118.2,176.2 L1118.5,175.0 L1119.0,172.9 L1119.5,171.0 L1120.0,169.0 L1120.5,167.1 L1121.0,165.2 L1121.5,163.3 L1122.0,161.5 L1122.5,159.7 L1123.0,157.9 L1123.5,156.1 L1124.0,154.4 L1124.5,152.7 L1125.0,151.0 L1125.5,149.3 L1125.6,149.0 L1126.0,147.7 L1126.5,146.0 L1127.0,144.4 L1127.5,142.8 L1128.0,141.2 L1128.5,139.6 L1129.0,138.0 L1129.5,136.5 L1130.0,135.0 L1130.5,133.5 L1131.0,132.1 L1131.5,130.7 L1132.0,129.4 L1132.5,128.1 L1133.0,126.9 L1133.1,126.7 L1133.5,125.8 L1134.0,124.6 L1134.5,123.5 L1135.0,122.4 L1135.5,121.3 L1136.0,120.2 L1136.5,119.1 L1137.0,118.1 L1137.5,117.1 L1138.0,116.1 L1138.5,115.1 L1139.0,114.2 L1139.5,113.3 L1140.0,112.5 L1140.5,111.6 L1141.0,110.9 L1141.5,110.1 L1142.0,109.4 L1142.5,108.8 L1143.0,108.2 L1143.5,107.6 L1144.0,107.1 L1144.5,106.5 L1145.0,106.0 L1145.5,105.5 L1146.0,105.0 L1146.5,104.5 L1147.0,104.0 L1147.5,103.5 L1148.0,103.0 L1148.5,102.6 L1149.0,102.2 L1149.5,101.8 L1150.0,101.4 L1150.5,101.0 L1151.0,100.6 L1151.5,100.3 L1152.0,99.9 L1152.5,99.6 L1153.0,99.3 L1153.5,99.1 L1154.0,98.8 L1154.5,98.6 L1155.0,98.4 L1155.3,98.3 L1155.5,98.2 L1156.0,98.1 L1156.5,97.9 L1157.0,97.7 L1157.5,97.6 L1158.0,97.4 L1158.5,97.2 L1159.0,97.1 L1159.5,96.9 L1160.0,96.8 L1160.5,96.7 L1161.0,96.5 L1161.5,96.4 L1162.0,96.3 L1162.5,96.1 L1163.0,96.0 L1163.5,95.9 L1164.0,95.8 L1164.5,95.7 L1165.0,95.6 L1165.5,95.5 L1166.0,95.4 L1166.5,95.4 L1167.0,95.3 L1167.5,95.2 L1168.0,95.2 L1168.5,95.1 L1169.0,95.1 L1169.5,95.0 L1170.0,95.0 L1170.2,95.0 L1170.5,95.0 L1171.0,95.0 L1171.5,94.9 L1172.0,94.9 L1172.5,94.9 L1173.0,94.9 L1173.5,94.9 L1174.0,94.8 L1174.5,94.8 L1175.0,94.8 L1175.5,94.8 L1176.0,94.8 L1176.5,94.7 L1177.0,94.7 L1177.5,94.7 L1178.0,94.7 L1178.5,94.7 L1179.0,94.7 L1179.5,94.7 L1180.0,94.7 L1180.5,94.6 L1181.0,94.6 L1181.5,94.6 L1182.0,94.6 L1182.5,94.6 L1183.0,94.6 L1183.5,94.6 L1184.0,94.6 L1184.5,94.6 L1185.0,94.6 L1185.5,94.6 L1186.0,94.6 L1186.5,94.7 L1187.0,94.7 L1187.5,94.8 L1188.0,94.9 L1188.5,95.0 L1189.0,95.1 L1189.5,95.2 L1190.0,95.3 L1190.5,95.5 L1191.0,95.6 L1191.5,95.8 L1192.0,95.9 L1192.5,96.1 L1193.0,96.2 L1193.5,96.4 L1194.0,96.5 L1194.5,96.7 L1195.0,96.9 L1195.5,97.0 L1196.0,97.2 L1196.5,97.3 L1197.0,97.4 L1197.5,97.6 L1198.0,97.7 L1198.5,97.9 L1199.0,98.0 L1199.5,98.2 L1200.0,98.3 L1200.5,98.5 L1201.0,98.6 L1201.5,98.8 L1202.0,99.0 L1202.5,99.1 L1203.0,99.3 L1203.5,99.5 L1204.0,99.6 L1204.5,99.8 L1205.0,100.0 L1205.5,100.2 L1206.0,100.4 L1206.5,100.6 L1207.0,100.8 L1207.5,101.0 L1208.0,101.2 L1208.5,101.5 L1209.0,101.7 L1209.5,101.9 L1210.0,102.2 L1210.3,102.3 L1210.5,102.4 L1211.0,102.7 L1211.5,102.9 L1212.0,103.2 L1212.5,103.5 L1213.0,103.9 L1213.5,104.2 L1214.0,104.5 L1214.5,104.9 L1215.0,105.2 L1215.5,105.6 L1216.0,106.0 L1216.5,106.4 L1217.0,106.8 L1217.5,107.2 L1218.0,107.6 L1218.5,108.0 L1219.0,108.5 L1219.5,108.9 L1220.0,109.3 L1220.5,109.8 L1221.0,110.2 L1221.3,110.5 L1221.5,110.7 L1222.0,111.1 L1222.5,111.6 L1223.0,112.1 L1223.5,112.6 L1224.0,113.1 L1224.5,113.7 L1225.0,114.2 L1225.5,114.8 L1226.0,115.3 L1226.5,115.9 L1227.0,116.5 L1227.5,117.0 L1228.0,117.6 L1228.5,118.2 L1229.0,118.8 L1229.5,119.4 L1230.0,120.1 L1230.5,120.7 L1231.0,121.3 L1231.5,121.9 L1232.0,122.5 L1232.3,122.9 L1232.5,123.1 L1233.0,123.8 L1233.5,124.4 L1234.0,125.1 L1234.5,125.7 L1235.0,126.4 L1235.5,127.0 L1236.0,127.7 L1236.5,128.4 L1237.0,129.1 L1237.5,129.8 L1238.0,130.5 L1238.5,131.2 L1239.0,131.9 L1239.5,132.6 L1240.0,133.3 L1240.5,134.0 L1241.0,134.7 L1241.5,135.4 L1242.0,136.1 L1242.5,136.9 L1243.0,137.6 L1243.3,138.0 L1243.5,138.3 L1244.0,139.0 L1244.5,139.7 L1245.0,140.5 L1245.5,141.2 L1246.0,142.0 L1246.5,142.7 L1247.0,143.5 L1247.5,144.2 L1248.0,145.0 L1248.5,145.8 L1249.0,146.5 L1249.5,147.3 L1250.0,148.1 L1250.5,148.8 L1251.0,149.6 L1251.5,150.3 L1252.0,151.1 L1252.5,151.8 L1253.0,152.6 L1253.5,153.3 L1254.0,154.1 L1254.3,154.5 L1254.5,154.8 L1255.0,155.5 L1255.5,156.2 L1256.0,157.0 L1256.5,157.7 L1257.0,158.4 L1257.5,159.1 L1258.0,159.8 L1258.5,160.5 L1259.0,161.2 L1259.5,161.9 L1260.0,162.6 L1260.5,163.3 L1261.0,164.0 L1261.5,164.7 L1262.0,165.4 L1262.5,166.1 L1263.0,166.8 L1263.5,167.5 L1264.0,168.2 L1264.5,168.9 L1265.0,169.6 L1265.5,170.3 L1266.0,171.0 L1266.5,171.7 L1267.0,172.4 L1267.5,173.1 L1268.0,173.8 L1268.5,174.5 L1269.0,175.2 L1269.5,175.9 L1270.0,176.6 L1270.5,177.3 L1271.0,178.0 L1271.5,178.7 L1272.0,179.4 L1272.5,180.1 L1273.0,180.8 L1273.5,181.5 L1274.0,182.2 L1274.5,182.9 L1275.0,183.6 L1275.5,184.3 L1276.0,185.0 L1276.5,185.7 L1277.0,186.4 L1277.5,187.1 L1278.0,187.8 L1278.5,188.5 L1279.0,189.2 L1279.5,189.9 L1280.0,190.6 L1280.5,191.2 L1281.0,191.9 L1281.5,192.6 L1281.8,193.0 L1282.0,193.3 L1282.5,193.9 L1283.0,194.6 L1283.5,195.3 L1284.0,195.9 L1284.5,196.6 L1285.0,197.3 L1285.5,197.9 L1286.0,198.6 L1286.5,199.2 L1287.0,199.9 L1287.5,200.5 L1288.0,201.2 L1288.5,201.8 L1289.0,202.5 L1289.5,203.1 L1290.0,203.8 L1290.5,204.4 L1291.0,205.1 L1291.5,205.7 L1292.0,206.4 L1292.5,207.0 L1293.0,207.7 L1293.5,208.3 L1294.0,209.0 L1294.5,209.6 L1295.0,210.2 L1295.5,210.9 L1296.0,211.5 L1296.5,212.2 L1297.0,212.8 L1297.5,213.5 L1298.0,214.1 L1298.5,214.8 L1299.0,215.4 L1299.5,216.1 L1300.0,216.7 L1300.5,217.3 L1301.0,218.0 L1301.5,218.6 L1302.0,219.3 L1302.5,219.9 L1303.0,220.5 L1303.5,221.2 L1304.0,221.8 L1304.5,222.5 L1305.0,223.1 L1305.5,223.8 L1306.0,224.4 L1306.5,225.1 L1307.0,225.7 L1307.5,226.4 L1308.0,227.1 L1308.5,227.7 L1309.0,228.4 L1309.3,228.8 L1309.5,229.1 L1310.0,229.7 L1310.5,230.4 L1311.0,231.1 L1311.5,231.7 L1312.0,232.4 L1312.5,233.0 L1313.0,233.7 L1313.5,234.3 L1314.0,235.0 L1314.5,235.7 L1315.0,236.3 L1315.5,237.0 L1316.0,237.7 L1316.5,238.3 L1317.0,239.0 L1317.5,239.7 L1318.0,240.4 L1318.5,241.1 L1319.0,241.8 L1319.5,242.6 L1320.0,243.3 L1320.5,244.0 L1321.0,244.8 L1321.5,245.6 L1322.0,246.4 L1322.5,247.2 L1323.0,248.0 L1323.5,248.8 L1324.0,249.7 L1324.5,250.6 L1325.0,251.5 L1325.5,252.4 L1326.0,253.3 L1326.5,254.2 L1327.0,255.2 L1327.5,256.1 L1328.0,257.1 L1328.5,258.1 L1329.0,259.1 L1329.5,260.2 L1330.0,261.2 L1330.5,262.3 L1331.0,263.3 L1331.5,264.4 L1332.0,265.5 L1332.5,266.6 L1333.0,267.7 L1333.5,268.9 L1334.0,270.0 L1334.5,271.2 L1335.0,272.3 L1335.5,273.5 L1336.0,274.7 L1336.5,275.9 L1337.0,277.1 L1337.5,278.4 L1338.0,279.6 L1338.5,280.9 L1339.0,282.3 L1339.5,283.6 L1340.0,285.0 L1340.5,286.5 L1341.0,288.0 L1341.5,289.5 L1342.0,291.0 L1342.3,292.0 L1342.5,292.7 L1343.0,294.4 L1343.5,296.2 L1344.0,298.2 L1344.5,300.2 L1345.0,302.3 L1345.5,304.4 L1346.0,306.5 L1346.5,308.6 L1347.0,310.7 L1347.5,312.8 L1347.8,314.0 L1348.0,314.8 L1348.5,317.2 L1349.0,319.8 L1349.5,322.5 L1350.0,325.0 L1350.5,327.3 L1351.0,329.1 L1351.5,330.2 L1351.9,330.5 L1352.0,330.4 L1352.5,328.8 L1353.0,325.2 L1353.5,320.4 L1354.0,315.0 L1354.5,309.5 L1354.6,308.5 L1355.0,304.1 L1355.5,297.9 L1356.0,291.1 L1356.5,283.8 L1357.0,276.2 L1357.4,270.0 L1357.5,268.4 L1358.0,259.6 L1358.5,250.3 L1359.0,241.5 L1359.3,237.0 L1359.5,234.2 L1360.0,227.5 L1360.5,221.6 L1361.0,217.8 L1361.5,215.4 L1362.0,213.2 L1362.5,211.5 L1363.0,210.2 L1363.5,209.6 L1363.7,209.5 L1364.0,209.6 L1364.5,210.0 L1365.0,210.8 L1365.5,211.7 L1366.0,212.8 L1366.5,214.0 L1367.0,215.0 L1367.5,216.1 L1368.0,217.2 L1368.5,218.5 L1369.0,219.8 L1369.5,221.2 L1370.0,222.6 L1370.5,223.9 L1371.0,225.3 L1371.5,226.5 L1372.0,227.7 L1372.5,228.8 L1373.0,229.8 L1373.5,230.7 L1374.0,231.6 L1374.5,232.5 L1375.0,233.4 L1375.5,234.2 L1376.0,235.0 L1376.5,235.8 L1377.0,236.5 L1377.5,237.3 L1378.0,238.1 L1378.5,238.8 L1379.0,239.6 L1379.5,240.4 L1380.0,241.2 L1380.5,242.0 L1380.8,242.5 L1381.0,242.8 L1381.5,243.7 L1382.0,244.5 L1382.5,245.4 L1383.0,246.2 L1383.5,247.1 L1384.0,247.9 L1384.5,248.8 L1385.0,249.7 L1385.5,250.5 L1386.0,251.4 L1386.5,252.2 L1387.0,253.1 L1387.5,254.0 L1388.0,254.8 L1388.5,255.7 L1389.0,256.6 L1389.5,257.4 L1390.0,258.3 L1390.4,259.0 L1390.5,259.2 L1391.0,260.0 L1391.5,260.9 L1392.0,261.8 L1392.5,262.6 L1393.0,263.5 L1393.5,264.4 L1394.0,265.3 L1394.5,266.1 L1395.0,267.0" stroke="#000" stroke-width="5.0" stroke-linecap="round"/>
<path d="M213.0,79.5 L213.5,79.5 L214.0,79.5 L214.5,79.5 L215.0,79.5 L215.5,79.5 L216.0,79.5 L216.5,79.5 L217.0,79.5 L217.5,79.6 L218.0,79.6 L218.5,79.6 L219.0,79.6 L219.5,79.6 L220.0,79.6 L220.5,79.6 L221.0,79.6 L221.5,79.6 L222.0,79.6 L222.5,79.6 L223.0,79.6 L223.5,79.6 L224.0,79.6 L224.5,79.6 L225.0,79.6 L225.5,79.7 L226.0,79.7 L226.5,79.7 L227.0,79.7 L227.5,79.7 L228.0,79.7 L228.5,79.7 L229.0,79.7 L229.5,79.7 L230.0,79.7 L230.5,79.7 L231.0,79.7 L231.5,79.7 L232.0,79.7 L232.5,79.7 L233.0,79.8 L233.5,79.8 L234.0,79.8 L234.5,79.8 L235.0,79.8 L235.5,79.8 L236.0,79.8 L236.5,79.8 L237.0,79.8 L237.5,79.8 L238.0,79.8 L238.5,79.8 L239.0,79.8 L239.5,79.8 L240.0,79.9 L240.5,79.9 L241.0,79.9 L241.5,79.9 L242.0,79.9 L242.5,79.9 L243.0,79.9 L243.5,79.9 L244.0,79.9 L244.5,79.9 L245.0,79.9 L245.5,79.9 L246.0,79.9 L246.5,79.9 L247.0,80.0 L247.5,80.0 L248.0,80.0 L248.5,80.0 L249.0,80.0 L249.5,80.0 L250.0,80.0 L250.5,80.0 L251.0,80.0 L251.5,80.0 L252.0,80.0 L252.5,80.0 L253.0,80.0 L253.5,80.1 L254.0,80.1 L254.5,80.1 L255.0,80.1 L255.5,80.1 L256.0,80.1 L256.5,80.1 L257.0,80.1 L257.5,80.1 L258.0,80.1 L258.5,80.1 L259.0,80.1 L259.5,80.1 L260.0,80.1 L260.5,80.1 L261.0,80.2 L261.5,80.2 L262.0,80.2 L262.5,80.2 L263.0,80.2 L263.5,80.2 L264.0,80.2 L264.5,80.2 L265.0,80.2 L265.5,80.2 L266.0,80.2 L266.5,80.2 L267.0,80.2 L267.5,80.3 L268.0,80.3 L268.5,80.3 L269.0,80.3 L269.5,80.3 L270.0,80.3 L270.5,80.3 L271.0,80.3 L271.5,80.3 L272.0,80.3 L272.5,80.3 L273.0,80.3 L273.5,80.4 L274.0,80.4 L274.5,80.4 L275.0,80.4 L275.5,80.4 L276.0,80.4 L276.5,80.4 L277.0,80.4 L277.5,80.4 L278.0,80.5 L278.5,80.5 L279.0,80.5 L279.5,80.5 L280.0,80.5 L280.5,80.5 L281.0,80.5 L281.5,80.5 L282.0,80.6 L282.5,80.6 L283.0,80.6 L283.5,80.6 L284.0,80.6 L284.5,80.6 L285.0,80.6 L285.5,80.7 L286.0,80.7 L286.5,80.7 L287.0,80.7 L287.5,80.7 L288.0,80.7 L288.5,80.7 L289.0,80.8 L289.5,80.8 L290.0,80.8 L290.5,80.8 L291.0,80.8 L291.5,80.9 L292.0,80.9 L292.5,80.9 L293.0,80.9 L293.5,80.9 L294.0,81.0 L294.5,81.0 L295.0,81.0 L295.5,81.0 L296.0,81.0 L296.5,81.1 L297.0,81.1 L297.5,81.1 L298.0,81.1 L298.5,81.2 L299.0,81.2 L299.5,81.2 L300.0,81.2 L300.5,81.2 L301.0,81.3 L301.5,81.3 L302.0,81.3 L302.5,81.4 L303.0,81.4 L303.5,81.4 L304.0,81.4 L304.5,81.5 L305.0,81.5 L305.5,81.5 L306.0,81.5 L306.5,81.6 L307.0,81.6 L307.5,81.6 L308.0,81.7 L308.5,81.7 L309.0,81.7 L309.5,81.8 L310.0,81.8 L310.5,81.8 L311.0,81.9 L311.5,81.9 L312.0,81.9 L312.5,82.0 L313.0,82.0 L313.5,82.0 L314.0,82.1 L314.5,82.1 L315.0,82.1 L315.5,82.2 L316.0,82.2 L316.5,82.2 L317.0,82.3 L317.5,82.3 L318.0,82.3 L318.5,82.4 L319.0,82.4 L319.5,82.5 L320.0,82.5 L320.5,82.5 L321.0,82.6 L321.5,82.6 L322.0,82.7 L322.5,82.7 L323.0,82.8 L323.5,82.8 L324.0,82.9 L324.5,82.9 L325.0,83.0 L325.5,83.1 L326.0,83.1 L326.5,83.2 L327.0,83.2 L327.5,83.3 L328.0,83.4 L328.5,83.4 L329.0,83.5 L329.5,83.6 L330.0,83.7 L330.5,83.7 L331.0,83.8 L331.5,83.9 L332.0,84.0 L332.5,84.1 L333.0,84.2 L333.5,84.2 L334.0,84.3 L334.5,84.4 L335.0,84.5 L335.5,84.6 L336.0,84.7 L336.5,84.8 L337.0,84.9 L337.5,85.0 L338.0,85.1 L338.5,85.2 L339.0,85.3 L339.5,85.4 L340.0,85.5 L340.5,85.6 L341.0,85.7 L341.5,85.8 L342.0,86.0 L342.5,86.1 L343.0,86.2 L343.5,86.4 L344.0,86.5 L344.5,86.7 L345.0,86.8 L345.5,87.0 L346.0,87.2 L346.5,87.4 L347.0,87.6 L347.5,87.8 L348.0,88.0 L348.5,88.2 L349.0,88.5 L349.5,88.8 L350.0,89.2 L350.5,89.6 L351.0,90.0 L351.5,90.5 L352.0,91.0 L352.5,91.6 L353.0,92.4 L353.5,93.4 L354.0,94.6 L354.5,96.0 L355.0,97.9 L355.5,100.8 L356.0,105.0 L356.5,113.2 L357.0,126.6 L357.2,133.0 L357.5,145.8 L358.0,175.4 L358.2,188.0 L358.5,209.7 L359.0,248.3 L359.2,260.0 L359.5,273.8 L360.0,292.5 L360.3,300.0 L360.5,303.9 L361.0,313.0 L361.5,320.5 L362.0,325.6 L362.5,327.5 L363.0,323.6 L363.5,314.7 L364.0,304.8 L364.3,300.0 L364.5,297.3 L365.0,289.8 L365.5,282.3 L366.0,275.8 L366.5,271.5 L366.9,270.3 L367.0,270.4 L367.5,273.2 L368.0,279.1 L368.5,287.2 L369.0,296.3 L369.2,300.0 L369.5,306.7 L370.0,321.5 L370.5,337.1 L370.6,340.0 L371.0,352.9 L371.5,370.8 L372.0,384.7 L372.4,389.0 L372.5,388.3 L373.0,370.6 L373.5,344.4 L373.6,340.0 L374.0,323.8 L374.5,303.9 L374.6,300.0 L375.0,284.7 L375.5,266.2 L375.8,256.0 L376.0,249.5 L376.5,234.2 L377.0,220.2 L377.2,215.0 L377.5,207.8 L378.0,196.8 L378.5,186.3 L378.8,180.0 L379.0,175.6 L379.5,163.8 L380.0,152.6 L380.5,143.7 L380.6,142.4 L381.0,137.7 L381.5,132.7 L382.0,128.4 L382.5,124.7 L383.0,121.5 L383.2,120.4 L383.5,118.8 L384.0,116.3 L384.5,114.0 L385.0,112.0 L385.5,110.1 L386.0,108.3 L386.5,106.7 L386.8,105.8 L387.0,105.2 L387.5,103.7 L388.0,102.3 L388.5,100.9 L389.0,99.6 L389.5,98.4 L390.0,97.3 L390.5,96.3 L391.0,95.4 L391.4,94.8 L391.5,94.7 L392.0,94.0 L392.5,93.3 L393.0,92.7 L393.5,92.1 L394.0,91.5 L394.5,91.0 L395.0,90.4 L395.5,90.0 L396.0,89.5 L396.5,89.1 L397.0,88.7 L397.5,88.3 L398.0,88.0 L398.5,87.7 L398.8,87.5 L399.0,87.4 L399.5,87.1 L400.0,86.8 L400.5,86.6 L401.0,86.3 L401.5,86.1 L402.0,85.9 L402.5,85.7 L403.0,85.4 L403.5,85.2 L404.0,85.1 L404.5,84.9 L405.0,84.7 L405.5,84.5 L406.0,84.4 L406.5,84.2 L407.0,84.1 L407.5,83.9 L408.0,83.8 L408.5,83.7 L409.0,83.5 L409.5,83.4 L410.0,83.3 L410.5,83.2 L411.0,83.0 L411.5,82.9 L412.0,82.8 L412.5,82.7 L413.0,82.6 L413.5,82.5 L414.0,82.4 L414.5,82.3 L415.0,82.2 L415.5,82.1 L416.0,82.0 L416.5,81.9 L417.0,81.9 L417.5,81.8 L418.0,81.7 L418.5,81.7 L419.0,81.6 L419.5,81.5 L420.0,81.5 L420.5,81.5 L421.0,81.4 L421.5,81.4 L422.0,81.3 L422.5,81.3 L423.0,81.3 L423.5,81.2 L424.0,81.2 L424.5,81.1 L425.0,81.1 L425.5,81.1 L426.0,81.0 L426.5,81.0 L427.0,81.0 L427.5,80.9 L428.0,80.9 L428.5,80.9 L429.0,80.8 L429.5,80.8 L430.0,80.8 L430.5,80.8 L431.0,80.7 L431.5,80.7 L432.0,80.7 L432.5,80.7 L433.0,80.6 L433.5,80.6 L434.0,80.6 L434.5,80.6 L435.0,80.6 L435.5,80.6 L436.0,80.6 L436.5,80.5 L437.0,80.5 L437.5,80.5 L438.0,80.5 L438.5,80.5 L439.0,80.5 L439.5,80.5 L440.0,80.5 L440.5,80.5 L441.0,80.5 L441.5,80.5 L442.0,80.5 L442.5,80.5 L443.0,80.5 L443.5,80.5 L444.0,80.5 L444.5,80.5 L445.0,80.5 L445.5,80.6 L446.0,80.6 L446.5,80.6 L447.0,80.6 L447.5,80.6 L448.0,80.6 L448.5,80.6 L449.0,80.6 L449.5,80.6 L450.0,80.7 L450.5,80.7 L451.0,80.7 L451.5,80.7 L452.0,80.7 L452.5,80.7 L453.0,80.7 L453.5,80.8 L454.0,80.8 L454.5,80.8 L455.0,80.8 L455.5,80.8 L456.0,80.9 L456.5,80.9 L457.0,80.9 L457.5,80.9 L458.0,80.9 L458.5,80.9 L459.0,81.0 L459.5,81.0 L460.0,81.0 L460.5,81.0 L461.0,81.0 L461.5,81.1 L462.0,81.1 L462.5,81.1 L463.0,81.1 L463.5,81.2 L464.0,81.2 L464.5,81.2 L465.0,81.3 L465.5,81.3 L466.0,81.3 L466.5,81.4 L467.0,81.4 L467.5,81.4 L468.0,81.5 L468.5,81.5 L469.0,81.5 L469.5,81.6 L470.0,81.6 L470.5,81.7 L471.0,81.7 L471.5,81.7 L472.0,81.8 L472.5,81.8 L473.0,81.9 L473.5,81.9 L474.0,82.0 L474.5,82.0 L475.0,82.0 L475.5,82.1 L476.0,82.1 L476.5,82.2 L477.0,82.2 L477.5,82.3 L478.0,82.3 L478.5,82.4 L479.0,82.4 L479.5,82.5 L480.0,82.5 L480.5,82.5 L481.0,82.6 L481.5,82.6 L482.0,82.7 L482.5,82.7 L483.0,82.8 L483.5,82.8 L484.0,82.9 L484.5,82.9 L485.0,83.0 L485.5,83.0 L486.0,83.1 L486.5,83.1 L487.0,83.2 L487.5,83.2 L488.0,83.3 L488.5,83.3 L489.0,83.4 L489.5,83.4 L490.0,83.5 L490.5,83.5 L491.0,83.6 L491.5,83.6 L492.0,83.7 L492.5,83.8 L493.0,83.8 L493.5,83.9 L494.0,83.9 L494.5,84.0 L495.0,84.1 L495.5,84.1 L496.0,84.2 L496.5,84.2 L497.0,84.3 L497.5,84.4 L498.0,84.4 L498.5,84.5 L499.0,84.6 L499.5,84.6 L500.0,84.7 L500.5,84.8 L501.0,84.8 L501.5,84.9 L502.0,85.0 L502.5,85.1 L503.0,85.1 L503.5,85.2 L504.0,85.3 L504.5,85.3 L505.0,85.4 L505.5,85.5 L506.0,85.6 L506.5,85.7 L507.0,85.7 L507.5,85.8 L508.0,85.9 L508.5,86.0 L509.0,86.1 L509.5,86.2 L510.0,86.2 L510.5,86.3 L511.0,86.4 L511.5,86.5 L512.0,86.6 L512.5,86.7 L513.0,86.8 L513.5,86.9 L514.0,87.0 L514.5,87.1 L515.0,87.2 L515.5,87.3 L516.0,87.4 L516.5,87.5 L517.0,87.6 L517.5,87.7 L518.0,87.8 L518.5,87.9 L519.0,88.0 L519.5,88.1 L520.0,88.3 L520.2,88.3 L520.5,88.4 L521.0,88.5 L521.5,88.6 L522.0,88.7 L522.5,88.9 L523.0,89.0 L523.5,89.1 L524.0,89.2 L524.5,89.4 L525.0,89.5 L525.5,89.7 L526.0,89.8 L526.5,90.0 L527.0,90.1 L527.5,90.3 L528.0,90.4 L528.5,90.6 L529.0,90.7 L529.5,90.9 L530.0,91.1 L530.5,91.2 L531.0,91.4 L531.5,91.6 L532.0,91.8 L532.5,91.9 L533.0,92.1 L533.5,92.3 L534.0,92.5 L534.5,92.7 L535.0,92.9 L535.5,93.1 L536.0,93.3 L536.3,93.4 L536.5,93.5 L537.0,93.7 L537.5,93.9 L538.0,94.1 L538.5,94.4 L539.0,94.6 L539.5,94.8 L540.0,95.1 L540.5,95.3 L541.0,95.6 L541.5,95.9 L542.0,96.1 L542.5,96.4 L543.0,96.7 L543.5,97.0 L544.0,97.3 L544.5,97.5 L545.0,97.9 L545.5,98.2 L546.0,98.5 L546.5,98.8 L547.0,99.1 L547.5,99.4 L548.0,99.8 L548.5,100.1 L549.0,100.4 L549.5,100.8 L550.0,101.1 L550.4,101.4 L550.5,101.5 L551.0,101.8 L551.5,102.2 L552.0,102.6 L552.5,103.0 L553.0,103.4 L553.5,103.8 L554.0,104.2 L554.5,104.6 L555.0,105.1 L555.5,105.5 L556.0,106.0 L556.5,106.4 L557.0,106.9 L557.5,107.4 L558.0,107.9 L558.5,108.4 L559.0,108.8 L559.5,109.4 L560.0,109.9 L560.5,110.4 L561.0,110.9 L561.5,111.4 L562.0,112.0 L562.5,112.5 L563.0,113.0 L563.5,113.6 L564.0,114.1 L564.5,114.7 L565.0,115.3 L565.5,115.9 L566.0,116.5 L566.5,117.1 L567.0,117.7 L567.5,118.3 L568.0,118.9 L568.5,119.6 L569.0,120.3 L569.5,120.9 L570.0,121.7 L570.5,122.4 L571.0,123.1 L571.5,123.9 L572.0,124.6 L572.5,125.4 L572.6,125.6 L573.0,126.3 L573.5,127.1 L574.0,128.0 L574.5,128.9 L575.0,129.9 L575.5,130.8 L576.0,131.8 L576.5,132.9 L577.0,133.9 L577.5,135.0 L578.0,136.2 L578.5,137.3 L579.0,138.5 L579.5,139.7 L580.0,141.0 L580.5,142.3 L580.7,142.8 L581.0,143.6 L581.5,145.0 L582.0,146.4 L582.5,147.9 L583.0,149.4 L583.5,151.0 L584.0,152.7 L584.5,154.4 L585.0,156.2 L585.5,158.1 L586.0,160.0 L586.5,162.1 L586.7,162.9 L587.0,164.2 L587.5,166.6 L588.0,169.1 L588.5,171.8 L589.0,174.6 L589.5,177.5 L590.0,180.5 L590.5,183.5 L591.0,186.5 L591.5,189.5 L591.8,191.2 L592.0,192.4 L592.5,195.2 L593.0,198.1 L593.5,201.0 L594.0,203.9 L594.5,206.9 L595.0,209.9 L595.5,213.0 L596.0,216.1 L596.5,219.4 L596.8,221.4 L597.0,222.8 L597.5,226.2 L598.0,229.8 L598.5,233.5 L599.0,237.3 L599.5,241.2 L600.0,245.1 L600.5,249.2 L600.8,251.7 L601.0,253.4 L601.5,257.5 L602.0,261.9 L602.5,266.7 L602.8,269.8 L603.0,272.0 L603.5,278.0 L604.0,284.5 L604.5,291.5 L605.0,299.0 L605.5,306.8 L606.0,315.3 L606.5,324.8 L607.0,334.9 L607.5,345.5 L608.0,356.2 L608.5,366.8 L609.0,377.0 L609.5,386.6 L609.8,392.0 L610.0,395.6 L610.5,405.4 L611.0,415.7 L611.5,425.6 L612.0,434.3 L612.5,440.8 L613.0,444.3 L613.2,444.6 L613.5,444.1 L614.0,441.4 L614.5,436.7 L615.0,430.7 L615.5,423.9 L616.0,417.0 L616.5,410.5 L616.9,406.0 L617.0,405.0 L617.5,399.5 L618.0,393.8 L618.5,387.9 L619.0,382.2 L619.5,376.8 L620.0,371.8 L620.5,367.5 L621.0,364.2 L621.1,363.6 L621.5,361.5 L622.0,358.9 L622.5,356.3 L623.0,353.9 L623.5,351.7 L624.0,349.8 L624.5,348.1 L625.0,346.8 L625.5,345.8 L626.0,345.3 L626.3,345.2 L626.5,345.3 L627.0,345.9 L627.5,347.3 L628.0,349.2 L628.5,351.6 L629.0,354.5 L629.5,357.7 L630.0,361.1 L630.5,364.8 L631.0,368.5 L631.1,369.3 L631.5,373.4 L632.0,380.9 L632.5,390.2 L633.0,400.4 L633.5,410.5 L634.0,419.7 L634.5,426.8 L635.0,431.0 L635.3,431.8 L635.5,431.2 L636.0,424.8 L636.5,413.3 L637.0,398.7 L637.5,383.1 L638.0,368.6 L638.2,363.6 L638.5,356.6 L639.0,345.2 L639.5,333.8 L640.0,322.0 L640.5,309.4 L640.6,306.8 L641.0,295.6 L641.5,280.4 L642.0,265.0 L642.5,249.0 L643.0,232.9 L643.4,221.4 L643.5,218.8 L644.0,206.8 L644.5,195.8 L645.0,185.2 L645.2,181.0 L645.5,174.4 L646.0,163.0 L646.5,152.2 L647.0,143.4 L647.2,140.7 L647.5,137.3 L648.0,132.2 L648.5,127.7 L649.0,123.8 L649.5,120.5 L650.0,117.6 L650.2,116.5 L650.5,115.0 L651.0,112.6 L651.5,110.4 L652.0,108.4 L652.5,106.6 L653.0,104.9 L653.5,103.4 L654.0,102.1 L654.3,101.4 L654.5,101.0 L655.0,99.9 L655.5,98.9 L656.0,97.9 L656.5,97.0 L657.0,96.2 L657.5,95.5 L658.0,94.8 L658.5,94.2 L659.0,93.7 L659.3,93.4 L659.5,93.2 L660.0,92.8 L660.5,92.4 L661.0,92.0 L661.5,91.6 L662.0,91.3 L662.5,90.9 L663.0,90.6 L663.5,90.3 L664.0,90.0 L664.5,89.8 L665.0,89.5 L665.5,89.3 L666.0,89.1 L666.5,89.0 L667.0,88.8 L667.4,88.7 L667.5,88.7 L668.0,88.6 L668.5,88.4 L669.0,88.3 L669.5,88.2 L670.0,88.1 L670.5,88.0 L671.0,87.9 L671.5,87.8 L672.0,87.8 L672.5,87.7 L673.0,87.6 L673.5,87.5 L674.0,87.5 L674.5,87.4 L675.0,87.3 L675.5,87.3 L676.0,87.2 L676.5,87.1 L677.0,87.1 L677.5,87.0 L678.0,87.0 L678.5,86.9 L679.0,86.9 L679.5,86.8 L680.0,86.8 L680.5,86.8 L681.0,86.7 L681.5,86.7 L682.0,86.7 L682.5,86.6 L683.0,86.6 L683.5,86.6 L684.0,86.5 L684.5,86.5 L685.0,86.5 L685.5,86.5 L686.0,86.4 L686.5,86.4 L687.0,86.4 L687.5,86.3 L688.0,86.3 L688.5,86.3 L689.0,86.3 L689.5,86.2 L690.0,86.2 L690.5,86.2 L691.0,86.2 L691.5,86.1 L692.0,86.1 L692.5,86.1 L693.0,86.1 L693.5,86.1 L694.0,86.0 L694.5,86.0 L695.0,86.0 L695.5,86.0 L696.0,86.0 L696.5,86.0 L697.0,86.0 L697.5,85.9 L698.0,85.9 L698.5,85.9 L699.0,85.9 L699.5,85.9 L700.0,85.9 L700.5,85.9 L701.0,85.9 L701.5,85.9 L701.7,85.9 L702.0,85.9 L702.5,85.9 L703.0,85.9 L703.5,85.9 L704.0,85.9 L704.5,85.9 L705.0,85.9 L705.5,85.9 L706.0,85.9 L706.5,85.9 L707.0,85.9 L707.5,85.9 L708.0,85.9 L708.5,85.9 L709.0,85.9 L709.5,85.9 L710.0,85.9 L710.5,85.9 L711.0,85.9 L711.5,85.9 L712.0,85.9 L712.5,85.9 L713.0,85.9 L713.5,85.9 L714.0,85.9 L714.5,85.9 L715.0,85.9 L715.5,85.9 L716.0,85.9 L716.5,85.9 L717.0,85.9 L717.5,85.9 L718.0,85.9 L718.5,85.9 L719.0,85.9 L719.5,85.9 L720.0,85.9 L720.5,85.9 L721.0,85.9 L721.5,85.9 L722.0,85.9 L722.5,85.9 L723.0,85.9 L723.5,85.9 L724.0,85.9 L724.5,85.9 L725.0,85.9 L725.5,85.9 L726.0,85.9 L726.5,85.9 L727.0,85.9 L727.5,85.9 L728.0,85.9 L728.5,85.9 L729.0,85.9 L729.5,85.9 L729.7,85.9 L730.0,85.9 L730.5,85.9 L731.0,85.9 L731.5,85.9 L732.0,85.9 L732.5,85.9 L733.0,86.0 L733.5,86.0 L734.0,86.0 L734.5,86.0 L735.0,86.1 L735.5,86.1 L736.0,86.1 L736.5,86.2 L737.0,86.2 L737.5,86.3 L738.0,86.3 L738.5,86.3 L739.0,86.4 L739.5,86.4 L740.0,86.5 L740.5,86.5 L741.0,86.6 L741.5,86.7 L742.0,86.7 L742.5,86.8 L743.0,86.8 L743.5,86.9 L744.0,87.0 L744.5,87.0 L745.0,87.1 L745.5,87.2 L746.0,87.2 L746.5,87.3 L747.0,87.4 L747.5,87.4 L748.0,87.5 L748.5,87.6 L749.0,87.7 L749.5,87.7 L750.0,87.8 L750.5,87.9 L751.0,88.0 L751.5,88.0 L752.0,88.1 L752.5,88.2 L753.0,88.3 L753.5,88.3 L754.0,88.4 L754.5,88.5 L755.0,88.6 L755.5,88.7 L756.0,88.7 L756.5,88.8 L757.0,88.9 L757.5,89.0 L758.0,89.0 L758.5,89.1 L759.0,89.2 L759.5,89.3 L760.0,89.3 L760.5,89.4 L761.0,89.5 L761.5,89.5 L761.9,89.6 L762.0,89.6 L762.5,89.7 L763.0,89.8 L763.5,89.8 L764.0,89.9 L764.5,90.0 L765.0,90.0 L765.5,90.1 L766.0,90.2 L766.5,90.3 L767.0,90.4 L767.5,90.4 L768.0,90.5 L768.5,90.6 L769.0,90.7 L769.5,90.8 L770.0,90.8 L770.5,90.9 L771.0,91.0 L771.5,91.1 L772.0,91.2 L772.5,91.3 L773.0,91.3 L773.5,91.4 L774.0,91.5 L774.5,91.6 L775.0,91.7 L775.5,91.8 L776.0,91.9 L776.5,92.0 L777.0,92.0 L777.5,92.1 L778.0,92.2 L778.5,92.3 L779.0,92.4 L779.5,92.5 L780.0,92.6 L780.5,92.7 L781.0,92.8 L781.5,92.9 L782.0,92.9 L782.5,93.0 L783.0,93.1 L783.5,93.2 L784.0,93.3 L784.5,93.4 L785.0,93.5 L785.5,93.6 L786.0,93.7 L786.5,93.7 L787.0,93.8 L787.5,93.9 L788.0,94.0 L788.5,94.1 L789.0,94.2 L789.5,94.3 L790.0,94.3 L790.5,94.4 L791.0,94.5 L791.5,94.6 L792.0,94.7 L792.5,94.8 L793.0,94.8 L793.5,94.9 L794.0,95.0 L794.5,95.1 L795.0,95.2 L795.5,95.2 L796.0,95.3 L796.5,95.4 L797.0,95.5 L797.5,95.6 L798.0,95.7 L798.5,95.8 L799.0,95.9 L799.5,96.0 L800.0,96.1 L800.5,96.2 L801.0,96.3 L801.5,96.4 L802.0,96.5 L802.5,96.6 L803.0,96.7 L803.5,96.8 L804.0,96.9 L804.5,97.0 L805.0,97.1 L805.5,97.2 L806.0,97.2 L806.5,97.3 L807.0,97.4 L807.5,97.5 L808.0,97.6 L808.5,97.6 L809.0,97.7 L809.5,97.8 L810.0,97.9 L810.5,97.9 L811.0,98.0 L811.5,98.0 L812.0,98.1 L812.5,98.1 L813.0,98.2 L813.5,98.2 L814.0,98.2 L814.5,98.3 L815.0,98.3 L815.5,98.3 L816.0,98.3 L816.3,98.3 L816.5,98.3 L817.0,98.3 L817.5,98.3 L818.0,98.3 L818.5,98.3 L819.0,98.3 L819.5,98.3 L820.0,98.2 L820.5,98.2 L821.0,98.2 L821.5,98.2 L822.0,98.2 L822.5,98.2 L823.0,98.1 L823.5,98.1 L824.0,98.1 L824.5,98.1 L825.0,98.0 L825.5,98.0 L826.0,98.0 L826.5,97.9 L827.0,97.9 L827.5,97.9 L828.0,97.8 L828.5,97.8 L829.0,97.8 L829.5,97.7 L830.0,97.7 L830.5,97.7 L831.0,97.6 L831.5,97.6 L832.0,97.5 L832.5,97.5 L833.0,97.5 L833.5,97.4 L834.0,97.4 L834.5,97.3 L835.0,97.3 L835.5,97.3 L836.0,97.2 L836.5,97.2 L837.0,97.1 L837.5,97.1 L838.0,97.0 L838.5,97.0 L838.6,97.0 L839.0,97.0 L839.5,96.9 L840.0,96.9 L840.5,96.8 L841.0,96.8 L841.5,96.7 L842.0,96.7 L842.5,96.6 L843.0,96.6 L843.5,96.5 L844.0,96.4 L844.5,96.4 L845.0,96.3 L845.5,96.3 L846.0,96.2 L846.5,96.1 L847.0,96.1 L847.5,96.0 L848.0,95.9 L848.5,95.8 L849.0,95.8 L849.5,95.7 L850.0,95.6 L850.5,95.5 L851.0,95.5 L851.5,95.4 L852.0,95.3 L852.5,95.2 L853.0,95.1 L853.5,95.1 L854.0,95.0 L854.5,94.9 L855.0,94.8 L855.5,94.7 L856.0,94.6 L856.5,94.6 L857.0,94.5 L857.5,94.4 L858.0,94.3 L858.5,94.2 L859.0,94.1 L859.5,94.1 L860.0,94.0 L860.5,93.9 L861.0,93.8 L861.5,93.7 L862.0,93.6 L862.5,93.6 L863.0,93.5 L863.5,93.4 L864.0,93.3 L864.5,93.2 L865.0,93.2 L865.5,93.1 L866.0,93.0 L866.5,92.9 L867.0,92.8 L867.5,92.8 L868.0,92.7 L868.5,92.6 L869.0,92.6 L869.5,92.5 L870.0,92.4 L870.5,92.3 L871.0,92.3 L871.5,92.2 L872.0,92.2 L872.5,92.1 L873.0,92.0 L873.3,92.0 L873.5,92.0 L874.0,91.9 L874.5,91.9 L875.0,91.8 L875.5,91.7 L876.0,91.7 L876.5,91.6 L877.0,91.5 L877.5,91.5 L878.0,91.4 L878.5,91.4 L879.0,91.3 L879.5,91.2 L880.0,91.2 L880.5,91.1 L881.0,91.0 L881.5,91.0 L882.0,90.9 L882.5,90.8 L883.0,90.8 L883.5,90.7 L884.0,90.6 L884.5,90.6 L885.0,90.5 L885.5,90.5 L886.0,90.4 L886.5,90.3 L887.0,90.3 L887.5,90.2 L888.0,90.2 L888.5,90.1 L889.0,90.1 L889.5,90.0 L890.0,90.0 L890.5,89.9 L891.0,89.9 L891.5,89.9 L892.0,89.8 L892.5,89.8 L893.0,89.8 L893.5,89.7 L894.0,89.7 L894.5,89.7 L895.0,89.7 L895.5,89.6 L896.0,89.6 L896.5,89.6 L897.0,89.6 L897.5,89.6 L898.0,89.6 L898.5,89.6 L899.0,89.6 L899.5,89.6 L900.0,89.6 L900.5,89.7 L901.0,89.7 L901.5,89.7 L902.0,89.8 L902.5,89.8 L903.0,89.8 L903.5,89.9 L904.0,89.9 L904.5,90.0 L905.0,90.0 L905.5,90.1 L906.0,90.2 L906.5,90.2 L907.0,90.3 L907.5,90.4 L908.0,90.4 L908.5,90.5 L909.0,90.6 L909.5,90.7 L910.0,90.7 L910.4,90.8 L910.5,90.8 L911.0,90.9 L911.5,91.0 L912.0,91.1 L912.5,91.2 L913.0,91.4 L913.5,91.5 L914.0,91.7 L914.5,91.9 L915.0,92.1 L915.5,92.3 L916.0,92.5 L916.5,92.7 L917.0,92.9 L917.5,93.1 L918.0,93.4 L918.5,93.6 L919.0,93.9 L919.5,94.2 L920.0,94.4 L920.3,94.6 L920.5,94.7 L921.0,95.0 L921.5,95.4 L922.0,95.8 L922.5,96.2 L923.0,96.6 L923.5,97.1 L924.0,97.6 L924.5,98.1 L925.0,98.7 L925.5,99.2 L926.0,99.8 L926.5,100.4 L927.0,101.1 L927.5,101.7 L927.7,102.0 L928.0,102.4 L928.5,103.2 L929.0,103.9 L929.5,104.8 L930.0,105.7 L930.5,106.7 L931.0,107.7 L931.5,108.7 L932.0,109.8 L932.5,111.0 L933.0,112.2 L933.5,113.4 L933.9,114.4 L934.0,114.7 L934.5,116.0 L935.0,117.5 L935.5,119.1 L936.0,120.8 L936.5,122.5 L937.0,124.4 L937.5,126.3 L938.0,128.2 L938.5,130.1 L938.9,131.7 L939.0,132.1 L939.5,134.1 L940.0,136.1 L940.5,138.1 L941.0,140.3 L941.5,142.4 L942.0,144.7 L942.5,147.1 L943.0,149.7 L943.5,152.3 L943.8,154.0 L944.0,155.2 L944.5,158.3 L945.0,161.8 L945.5,165.5 L946.0,169.4 L946.5,173.3 L947.0,177.3 L947.5,181.2 L948.0,185.0 L948.5,188.9 L949.0,192.8 L949.5,196.7 L950.0,200.7 L950.5,204.9 L951.0,209.2 L951.2,210.9 L951.5,213.5 L952.0,217.7 L952.5,222.0 L953.0,226.3 L953.5,231.0 L954.0,236.0 L954.5,241.7 L955.0,248.0 L955.5,256.4 L956.0,266.9 L956.5,277.7 L957.0,287.0 L957.5,294.5 L958.0,301.5 L958.5,307.9 L959.0,314.0 L959.5,320.0 L960.0,325.8 L960.5,331.3 L961.0,336.7 L961.5,342.0 L962.0,347.3 L962.5,352.5 L963.0,357.5 L963.5,362.6 L964.0,367.7 L964.5,372.8 L965.0,378.0 L965.5,383.4 L966.0,389.0 L966.5,394.8 L967.0,400.8 L967.5,407.0 L968.0,413.3 L968.5,419.7 L969.0,426.2 L969.5,432.7 L970.0,439.2 L970.5,445.7 L970.9,450.9 L971.0,452.2 L971.5,458.7 L972.0,465.3 L972.5,471.9 L973.0,478.5 L973.5,485.1 L974.0,491.6 L974.5,497.9 L974.7,500.4 L975.0,504.5 L975.5,512.2 L976.0,519.8 L976.5,525.8 L977.0,528.8 L977.1,528.9 L977.5,527.7 L978.0,523.3 L978.5,516.7 L979.0,509.2 L979.5,501.8 L979.6,500.4 L980.0,494.8 L980.5,487.1 L981.0,478.8 L981.5,470.1 L982.0,461.2 L982.5,452.3 L983.0,443.6 L983.3,438.5 L983.5,435.1 L984.0,426.6 L984.5,418.0 L985.0,409.4 L985.5,400.9 L986.0,392.5 L986.5,384.4 L987.0,376.6 L987.5,369.2 L988.0,362.0 L988.5,355.0 L989.0,348.2 L989.5,341.4 L990.0,334.6 L990.5,327.8 L990.7,325.0 L991.0,320.8 L991.5,313.7 L992.0,306.7 L992.5,299.6 L993.0,292.7 L993.2,290.0 L993.5,285.9 L994.0,279.1 L994.5,272.8 L995.0,266.9 L995.5,261.2 L996.0,255.8 L996.5,250.5 L997.0,245.3 L997.5,240.2 L998.0,235.2 L998.2,233.2 L998.5,230.2 L999.0,225.3 L999.5,220.5 L1000.0,215.7 L1000.5,211.0 L1001.0,206.5 L1001.5,202.0 L1001.9,198.5 L1002.0,197.6 L1002.5,193.3 L1003.0,188.9 L1003.5,184.6 L1004.0,180.5 L1004.5,176.5 L1005.0,172.8 L1005.5,169.4 L1005.6,168.8 L1006.0,166.3 L1006.5,163.4 L1007.0,160.6 L1007.5,157.9 L1008.0,155.3 L1008.5,152.8 L1009.0,150.5 L1009.5,148.2 L1010.0,146.1 L1010.5,144.1 L1011.0,142.2 L1011.5,140.3 L1012.0,138.4 L1012.5,136.6 L1013.0,134.9 L1013.5,133.3 L1014.0,131.7 L1014.5,130.1 L1015.0,128.7 L1015.5,127.3 L1016.0,126.0 L1016.5,124.8 L1016.7,124.3 L1017.0,123.6 L1017.5,122.5 L1018.0,121.4 L1018.5,120.3 L1019.0,119.3 L1019.5,118.3 L1020.0,117.3 L1020.5,116.3 L1021.0,115.4 L1021.5,114.5 L1022.0,113.6 L1022.5,112.8 L1023.0,111.9 L1023.5,111.2 L1024.0,110.4 L1024.5,109.7 L1025.0,109.0 L1025.5,108.3 L1026.0,107.6 L1026.5,107.0 L1026.6,106.9 L1027.0,106.4 L1027.5,105.8 L1028.0,105.3 L1028.5,104.7 L1029.0,104.2 L1029.5,103.6 L1030.0,103.1 L1030.5,102.6 L1031.0,102.1 L1031.5,101.6 L1032.0,101.1 L1032.5,100.7 L1033.0,100.2 L1033.5,99.8 L1034.0,99.3 L1034.5,98.9 L1035.0,98.5 L1035.5,98.1 L1036.0,97.8 L1036.5,97.4 L1037.0,97.1 L1037.5,96.7 L1038.0,96.4 L1038.5,96.1 L1039.0,95.8 L1039.5,95.5 L1040.0,95.2 L1040.5,94.9 L1041.0,94.7 L1041.5,94.4 L1042.0,94.1 L1042.5,93.9 L1043.0,93.6 L1043.5,93.3 L1044.0,93.1 L1044.5,92.8 L1045.0,92.6 L1045.5,92.4 L1046.0,92.1 L1046.5,91.9 L1047.0,91.7 L1047.5,91.5 L1048.0,91.3 L1048.5,91.1 L1049.0,90.9 L1049.5,90.7 L1050.0,90.6 L1050.5,90.4 L1051.0,90.3 L1051.5,90.1 L1052.0,90.0 L1052.5,89.9 L1053.0,89.8 L1053.5,89.7 L1053.9,89.6 L1054.0,89.6 L1054.5,89.5 L1055.0,89.4 L1055.5,89.3 L1056.0,89.3 L1056.5,89.2 L1057.0,89.1 L1057.5,89.0 L1058.0,88.9 L1058.5,88.9 L1059.0,88.8 L1059.5,88.7 L1060.0,88.7 L1060.5,88.6 L1061.0,88.5 L1061.5,88.5 L1062.0,88.4 L1062.5,88.3 L1063.0,88.3 L1063.5,88.2 L1064.0,88.2 L1064.5,88.1 L1065.0,88.1 L1065.5,88.0 L1066.0,88.0 L1066.5,87.9 L1067.0,87.9 L1067.5,87.8 L1068.0,87.8 L1068.5,87.8 L1069.0,87.7 L1069.5,87.7 L1070.0,87.7 L1070.5,87.7 L1071.0,87.6 L1071.5,87.6 L1072.0,87.6 L1072.5,87.6 L1073.0,87.6 L1073.5,87.6 L1073.7,87.6 L1074.0,87.6 L1074.5,87.6 L1075.0,87.6 L1075.5,87.6 L1076.0,87.6 L1076.5,87.7 L1077.0,87.7 L1077.5,87.7 L1078.0,87.8 L1078.5,87.8 L1079.0,87.8 L1079.5,87.9 L1080.0,87.9 L1080.5,88.0 L1081.0,88.0 L1081.5,88.1 L1082.0,88.1 L1082.5,88.2 L1083.0,88.3 L1083.5,88.3 L1084.0,88.4 L1084.5,88.5 L1085.0,88.6 L1085.5,88.6 L1086.0,88.7 L1086.5,88.8 L1087.0,88.9 L1087.5,88.9 L1088.0,89.0 L1088.5,89.1 L1089.0,89.2 L1089.5,89.3 L1090.0,89.4 L1090.5,89.5 L1091.0,89.7 L1091.5,89.8 L1092.0,90.0 L1092.5,90.1 L1093.0,90.3 L1093.5,90.5 L1094.0,90.7 L1094.5,90.9 L1095.0,91.1 L1095.5,91.3 L1096.0,91.5 L1096.5,91.8 L1097.0,92.0 L1097.5,92.3 L1098.0,92.5 L1098.5,92.8 L1099.0,93.0 L1099.5,93.3 L1100.0,93.6 L1100.5,93.9 L1100.9,94.1 L1101.0,94.2 L1101.5,94.5 L1102.0,94.8 L1102.5,95.1 L1103.0,95.5 L1103.5,95.9 L1104.0,96.3 L1104.5,96.7 L1105.0,97.1 L1105.5,97.6 L1106.0,98.1 L1106.5,98.5 L1107.0,99.0 L1107.5,99.6 L1108.0,100.1 L1108.5,100.6 L1109.0,101.2 L1109.5,101.7 L1110.0,102.3 L1110.5,102.9 L1110.8,103.2 L1111.0,103.4 L1111.5,104.0 L1112.0,104.7 L1112.5,105.4 L1113.0,106.0 L1113.5,106.8 L1114.0,107.5 L1114.5,108.3 L1115.0,109.1 L1115.5,109.9 L1116.0,110.7 L1116.5,111.5 L1117.0,112.3 L1117.5,113.2 L1118.0,114.1 L1118.2,114.4 L1118.5,114.9 L1119.0,115.8 L1119.5,116.7 L1120.0,117.6 L1120.5,118.5 L1121.0,119.4 L1121.5,120.4 L1122.0,121.4 L1122.5,122.4 L1123.0,123.4 L1123.5,124.5 L1124.0,125.5 L1124.5,126.7 L1125.0,127.8 L1125.5,129.0 L1125.6,129.2 L1126.0,130.2 L1126.5,131.4 L1127.0,132.8 L1127.5,134.1 L1128.0,135.5 L1128.5,137.0 L1129.0,138.5 L1129.5,140.0 L1130.0,141.5 L1130.5,143.1 L1131.0,144.7 L1131.5,146.3 L1132.0,147.9 L1132.5,149.5 L1133.0,151.2 L1133.1,151.5 L1133.5,152.8 L1134.0,154.5 L1134.5,156.1 L1135.0,157.8 L1135.5,159.6 L1136.0,161.3 L1136.5,163.1 L1137.0,164.9 L1137.5,166.7 L1138.0,168.6 L1138.5,170.5 L1139.0,172.5 L1139.5,174.5 L1140.0,176.6 L1140.5,178.7 L1141.0,180.9 L1141.5,183.2 L1142.0,185.6 L1142.5,188.0 L1143.0,190.5 L1143.5,193.1 L1144.0,195.8 L1144.5,198.5 L1145.0,201.2 L1145.5,204.0 L1146.0,206.9 L1146.5,209.7 L1146.7,210.9 L1147.0,212.7 L1147.5,215.8 L1148.0,219.0 L1148.5,222.3 L1149.0,225.7 L1149.5,229.1 L1150.0,232.6 L1150.5,235.9 L1151.0,239.3 L1151.5,242.5 L1151.6,243.1 L1152.0,245.6 L1152.5,248.6 L1153.0,251.6 L1153.5,254.6 L1154.0,257.6 L1154.5,260.5 L1155.0,263.4 L1155.5,266.3 L1156.0,269.3 L1156.5,272.2 L1156.6,272.8 L1157.0,275.3 L1157.5,278.7 L1158.0,282.0 L1158.5,285.2 L1159.0,287.9 L1159.5,290.0 L1160.0,291.6 L1160.5,293.0 L1161.0,294.3 L1161.5,295.5 L1162.0,296.6 L1162.5,297.6 L1163.0,298.6 L1163.5,299.5 L1164.0,300.3 L1164.5,301.1 L1165.0,301.9 L1165.5,302.7 L1166.0,303.5 L1166.5,304.3 L1167.0,305.1 L1167.5,305.8 L1168.0,306.5 L1168.5,307.3 L1169.0,308.0 L1169.5,308.6 L1170.0,309.3 L1170.5,310.0 L1171.0,310.6 L1171.5,311.2 L1172.0,311.9 L1172.5,312.5 L1173.0,313.1 L1173.5,313.6 L1174.0,314.2 L1174.5,314.8 L1175.0,315.3 L1175.5,315.9 L1176.0,316.4 L1176.5,316.9 L1177.0,317.5 L1177.5,318.0 L1178.0,318.5 L1178.5,319.0 L1179.0,319.5 L1179.5,320.1 L1180.0,320.6 L1180.5,321.2 L1181.0,321.8 L1181.5,322.4 L1182.0,323.0 L1182.5,323.5 L1183.0,324.0 L1183.5,324.5 L1184.0,324.9 L1184.5,325.3 L1185.0,325.6 L1185.5,325.8 L1186.0,326.0 L1186.5,326.0 L1187.0,325.9 L1187.5,325.8 L1188.0,325.5 L1188.5,325.1 L1189.0,324.7 L1189.5,324.2 L1190.0,323.7 L1190.5,323.1 L1191.0,322.5 L1191.2,322.2 L1191.5,321.8 L1192.0,320.8 L1192.5,319.6 L1193.0,318.2 L1193.5,316.6 L1194.0,314.9 L1194.5,313.2 L1195.0,311.5 L1195.5,309.7 L1196.0,307.6 L1196.5,305.4 L1197.0,303.1 L1197.5,300.9 L1198.0,298.7 L1198.3,297.5 L1198.5,296.7 L1199.0,294.9 L1199.5,293.1 L1200.0,291.4 L1200.5,289.7 L1201.0,287.9 L1201.5,286.0 L1202.0,283.8 L1202.5,281.3 L1203.0,278.5 L1203.5,275.5 L1204.0,272.4 L1204.5,269.1 L1205.0,265.9 L1205.5,262.8 L1205.9,260.4 L1206.0,259.8 L1206.5,256.9 L1207.0,254.1 L1207.5,251.2 L1208.0,248.4 L1208.5,245.6 L1209.0,242.8 L1209.5,240.0 L1210.0,237.2 L1210.5,234.5 L1211.0,231.8 L1211.5,229.1 L1212.0,226.4 L1212.5,223.8 L1212.6,223.3 L1213.0,221.2 L1213.5,218.6 L1214.0,216.0 L1214.5,213.4 L1215.0,210.9 L1215.5,208.3 L1216.0,205.8 L1216.5,203.3 L1217.0,200.9 L1217.5,198.5 L1218.0,196.1 L1218.5,193.8 L1219.0,191.6 L1219.5,189.4 L1219.7,188.6 L1220.0,187.3 L1220.5,185.3 L1221.0,183.2 L1221.5,181.2 L1222.0,179.2 L1222.5,177.2 L1223.0,175.3 L1223.5,173.4 L1224.0,171.5 L1224.5,169.7 L1225.0,168.0 L1225.5,166.3 L1226.0,164.7 L1226.5,163.2 L1227.0,161.7 L1227.1,161.4 L1227.5,160.3 L1228.0,158.9 L1228.5,157.6 L1229.0,156.4 L1229.5,155.2 L1230.0,154.0 L1230.5,152.9 L1231.0,151.7 L1231.5,150.6 L1232.0,149.6 L1232.5,148.5 L1233.0,147.5 L1233.5,146.4 L1234.0,145.4 L1234.5,144.3 L1234.6,144.1 L1235.0,143.3 L1235.5,142.2 L1236.0,141.1 L1236.5,140.1 L1237.0,139.0 L1237.5,138.0 L1238.0,137.0 L1238.5,136.0 L1239.0,135.1 L1239.5,134.2 L1240.0,133.3 L1240.5,132.5 L1241.0,131.7 L1241.5,131.0 L1242.0,130.2 L1242.5,129.5 L1243.0,128.8 L1243.5,128.1 L1244.0,127.5 L1244.5,126.8 L1245.0,126.2 L1245.5,125.5 L1246.0,124.9 L1246.5,124.3 L1247.0,123.7 L1247.5,123.1 L1248.0,122.6 L1248.5,122.0 L1249.0,121.5 L1249.5,120.9 L1250.0,120.4 L1250.5,119.8 L1251.0,119.3 L1251.5,118.8 L1252.0,118.3 L1252.5,117.8 L1253.0,117.3 L1253.5,116.8 L1254.0,116.3 L1254.5,115.8 L1255.0,115.3 L1255.5,114.9 L1256.0,114.4 L1256.5,114.0 L1257.0,113.5 L1257.5,113.1 L1258.0,112.6 L1258.5,112.2 L1259.0,111.8 L1259.5,111.4 L1260.0,111.0 L1260.5,110.6 L1261.0,110.2 L1261.5,109.8 L1262.0,109.5 L1262.5,109.1 L1263.0,108.7 L1263.5,108.4 L1264.0,108.0 L1264.5,107.7 L1265.0,107.4 L1265.5,107.0 L1266.0,106.7 L1266.5,106.4 L1267.0,106.0 L1267.5,105.7 L1268.0,105.4 L1268.5,105.1 L1269.0,104.8 L1269.5,104.5 L1270.0,104.2 L1270.5,103.9 L1271.0,103.6 L1271.5,103.3 L1272.0,103.1 L1272.5,102.8 L1273.0,102.5 L1273.5,102.3 L1274.0,102.0 L1274.5,101.8 L1275.0,101.5 L1275.5,101.3 L1276.0,101.0 L1276.3,100.9 L1276.5,100.8 L1277.0,100.6 L1277.5,100.4 L1278.0,100.1 L1278.5,99.9 L1279.0,99.7 L1279.5,99.5 L1280.0,99.3 L1280.5,99.1 L1281.0,98.9 L1281.5,98.7 L1282.0,98.5 L1282.5,98.3 L1283.0,98.1 L1283.5,97.9 L1284.0,97.7 L1284.5,97.5 L1285.0,97.3 L1285.5,97.1 L1286.0,96.9 L1286.5,96.7 L1287.0,96.6 L1287.5,96.4 L1288.0,96.2 L1288.5,96.0 L1289.0,95.9 L1289.5,95.7 L1290.0,95.6 L1290.5,95.4 L1291.0,95.2 L1291.5,95.1 L1292.0,94.9 L1292.5,94.8 L1293.0,94.7 L1293.5,94.5 L1294.0,94.4 L1294.5,94.3 L1295.0,94.1 L1295.5,94.0 L1296.0,93.9 L1296.5,93.8 L1297.0,93.6 L1297.5,93.5 L1298.0,93.4 L1298.5,93.3 L1299.0,93.2 L1299.5,93.0 L1300.0,92.9 L1300.5,92.8 L1301.0,92.7 L1301.5,92.6 L1302.0,92.5 L1302.5,92.4 L1303.0,92.3 L1303.5,92.2 L1304.0,92.1 L1304.5,92.0 L1305.0,91.8 L1305.5,91.7 L1306.0,91.7 L1306.5,91.6 L1307.0,91.5 L1307.5,91.4 L1308.0,91.3 L1308.5,91.2 L1309.0,91.1 L1309.5,91.0 L1310.0,90.9 L1310.5,90.8 L1311.0,90.8 L1311.5,90.7 L1312.0,90.6 L1312.5,90.5 L1313.0,90.5 L1313.5,90.4 L1314.0,90.3 L1314.5,90.3 L1315.0,90.2 L1315.5,90.1 L1316.0,90.1 L1316.5,90.0 L1317.0,90.0 L1317.5,89.9 L1318.0,89.8 L1318.5,89.8 L1319.0,89.7 L1319.5,89.7 L1320.0,89.6 L1320.5,89.6 L1321.0,89.5 L1321.5,89.5 L1322.0,89.4 L1322.5,89.4 L1323.0,89.3 L1323.5,89.3 L1324.0,89.2 L1324.5,89.2 L1325.0,89.1 L1325.5,89.1 L1326.0,89.0 L1326.5,89.0 L1327.0,89.0 L1327.5,88.9 L1328.0,88.9 L1328.5,88.8 L1329.0,88.8 L1329.5,88.8 L1330.0,88.7 L1330.5,88.7 L1331.0,88.7 L1331.5,88.6 L1332.0,88.6 L1332.5,88.6 L1333.0,88.6 L1333.5,88.6 L1334.0,88.5 L1334.5,88.5 L1335.0,88.5 L1335.5,88.5 L1336.0,88.5 L1336.5,88.5 L1336.8,88.5 L1337.0,88.5 L1337.5,88.5 L1338.0,88.5 L1338.5,88.6 L1339.0,88.6 L1339.5,88.7 L1340.0,88.7 L1340.5,88.8 L1341.0,88.9 L1341.5,89.0 L1342.0,89.1 L1342.5,89.2 L1343.0,89.3 L1343.5,89.5 L1344.0,89.6 L1344.5,89.8 L1345.0,89.9 L1345.5,90.1 L1346.0,90.4 L1346.5,90.7 L1347.0,91.1 L1347.5,91.5 L1348.0,92.1 L1348.5,92.6 L1349.0,93.3 L1349.5,93.9 L1350.0,94.6 L1350.5,95.4 L1351.0,96.3 L1351.5,97.5 L1352.0,98.9 L1352.5,100.4 L1353.0,102.1 L1353.5,103.9 L1354.0,105.7 L1354.5,107.4 L1354.6,107.8 L1355.0,109.4 L1355.5,111.6 L1356.0,114.0 L1356.5,116.5 L1357.0,118.8 L1357.5,120.9 L1358.0,122.4 L1358.2,122.9 L1358.5,123.5 L1359.0,124.5 L1359.5,125.2 L1360.0,125.6 L1360.1,125.6 L1360.5,125.1 L1361.0,123.3 L1361.5,120.6 L1362.0,117.7 L1362.5,115.0 L1362.9,113.3 L1363.0,113.0 L1363.5,111.3 L1364.0,109.7 L1364.5,108.2 L1365.0,106.7 L1365.5,105.4 L1366.0,104.2 L1366.5,103.2 L1367.0,102.3 L1367.5,101.5 L1368.0,100.8 L1368.5,100.1 L1369.0,99.5 L1369.5,98.8 L1370.0,98.2 L1370.5,97.7 L1371.0,97.1 L1371.5,96.6 L1372.0,96.2 L1372.5,95.8 L1373.0,95.4 L1373.5,95.0 L1374.0,94.7 L1374.5,94.4 L1375.0,94.1 L1375.3,94.0 L1375.5,93.9 L1376.0,93.7 L1376.5,93.5 L1377.0,93.3 L1377.5,93.1 L1378.0,92.9 L1378.5,92.8 L1379.0,92.6 L1379.5,92.4 L1380.0,92.3 L1380.5,92.2 L1381.0,92.1 L1381.5,92.0 L1382.0,91.9 L1382.5,91.8 L1383.0,91.8 L1383.5,91.8 L1384.0,91.8 L1384.5,91.9 L1385.0,91.9 L1385.5,92.0 L1386.0,92.1 L1386.5,92.2 L1387.0,92.4 L1387.5,92.5 L1388.0,92.7 L1388.5,92.9 L1389.0,93.0 L1389.5,93.2 L1390.0,93.4 L1390.4,93.5 L1390.5,93.5 L1391.0,93.7 L1391.5,93.9 L1392.0,94.1 L1392.5,94.3 L1393.0,94.5 L1393.5,94.8 L1394.0,95.0 L1394.5,95.2 L1395.0,95.5" stroke="#000" stroke-width="5.0" stroke-linecap="round"/>
</g>
<rect x="212.7" y="6.65" width="1180.6" height="934.75" fill="none" stroke="#000" stroke-width="5"/>
<path d="M464,941.4V907.8M464,6.65V33.1M744,941.4V907.8M744,6.65V33.1M1024,941.4V907.8M1024,6.65V33.1M1304,941.4V907.8M1304,6.65V33.1M324.0,941.4V924.5M324.0,6.65V19.6M604.0,941.4V924.5M604.0,6.65V19.6M884.0,941.4V924.5M884.0,6.65V19.6M1164.0,941.4V924.5M1164.0,6.65V19.6M212.7,78.6H245.9M1393.3,78.6H1366.4M212.7,222.4H245.9M1393.3,222.4H1366.4M212.7,366.2H245.9M1393.3,366.2H1366.4M212.7,510.0H245.9M1393.3,510.0H1366.4M212.7,653.8H245.9M1393.3,653.8H1366.4M212.7,797.6H245.9M1393.3,797.6H1366.4M212.7,150.5H229.4M1393.3,150.5H1380.4M212.7,294.3H229.4M1393.3,294.3H1380.4M212.7,438.1H229.4M1393.3,438.1H1380.4M212.7,581.9H229.4M1393.3,581.9H1380.4M212.7,725.7H229.4M1393.3,725.7H1380.4M212.7,869.5H229.4M1393.3,869.5H1380.4" stroke="#000" stroke-width="5" fill="none"/>
<g font-family="'Liberation Serif','Times New Roman',serif" fill="#000">
<text x="176.5" y="100.7" font-size="73.5" text-anchor="end">0</text>
<text x="81.5 103 139.75" y="244.5" font-size="73.5">-10</text>
<text x="81.5 103 139.75" y="388.3" font-size="73.5">-20</text>
<text x="81.5 103 139.75" y="532.1" font-size="73.5">-30</text>
<text x="81.5 103 139.75" y="675.9" font-size="73.5">-40</text>
<text x="81.5 103 139.75" y="819.7" font-size="73.5">-50</text>
<text x="81.5 103 139.75" y="963.5" font-size="73.5">-60</text>
<text x="464" y="1019.3" font-size="73.5" text-anchor="middle">1</text>
<text x="744" y="1019.3" font-size="73.5" text-anchor="middle">2</text>
<text x="1024" y="1019.3" font-size="73.5" text-anchor="middle">3</text>
<text x="1304" y="1019.3" font-size="73.5" text-anchor="middle">4</text>
<text x="781.5" y="1073" font-size="58.2" text-anchor="middle">Frequency (GHz)</text>
<text transform="translate(44.5,514.5) rotate(-90)" font-size="58.2" text-anchor="middle">S-Parameter (dB)</text>
<text x="1039" y="768.5" font-size="45.6">Simulation</text>
<text x="1038.5" y="840.8" font-size="45.6">Measurement</text>
<text x="482.5" y="452.6" font-size="68">S</text>
<text transform="translate(517.3,470) scale(0.885,1)" font-size="40.7">21</text>
<text x="1222.3" y="380.6" font-size="68">S</text>
<text transform="translate(1258.6,398.6) scale(0.885,1)" font-size="40.7">11</text>
</g>
<path d="M917.7,752.8H1033.4" stroke="#000" stroke-width="5" fill="none"/>
<path d="M917.7,825.7H1033.4" stroke="#f00" stroke-width="5" stroke-dasharray="12.6 8.3" fill="none"/>
<ellipse cx="471.9" cy="332" rx="39.4" ry="11.9" fill="none" stroke="#000" stroke-width="1.6"/>
<path d="M506.7,338.5L514.3,380" stroke="#000" stroke-width="1.6" fill="none"/>
<path d="M516.9,394L506.5,379.5L521.5,376.5Z" fill="#000"/>
<ellipse cx="1221.7" cy="276.4" rx="39.3" ry="12.2" fill="none" stroke="#000" stroke-width="1.6"/>
<path d="M1220.6,288.4L1256,324.6" stroke="#000" stroke-width="1.6" fill="none"/>
<path d="M1267.5,336.5L1249.3,328.5L1260.1,318Z" fill="#000"/>
</svg>
</body></html>
